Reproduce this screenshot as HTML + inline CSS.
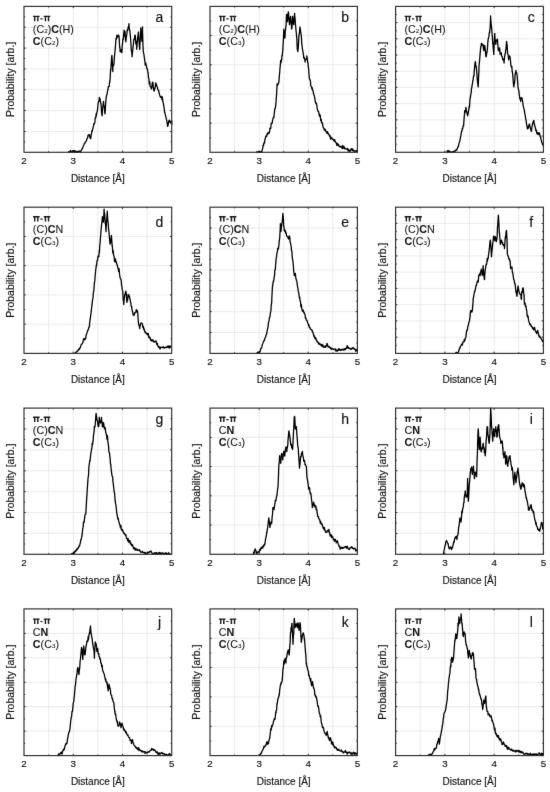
<!DOCTYPE html>
<html><head><meta charset="utf-8"><title>Figure</title>
<style>
html,body{margin:0;padding:0;background:#fff;width:550px;height:792px;overflow:hidden}
svg{display:block}
text{font-family:"Liberation Sans",sans-serif;fill:#111;stroke:#111;stroke-width:0.15px}
.lb{stroke-width:0.05px}
.pp{stroke-width:0.35px}

</style></head><body>
<svg width="550" height="792" viewBox="0 0 550 792">
<defs><filter id="bl" filterUnits="userSpaceOnUse" x="0" y="0" width="550" height="792" color-interpolation-filters="sRGB"><feConvolveMatrix order="3" kernelMatrix="0 1 0 1 10 1 0 1 0" edgeMode="duplicate"/></filter></defs>
<g filter="url(#bl)">
<rect width="550" height="792" fill="#fff"/>
<path d="M48.62 6.40V152.30M73.23 6.40V152.30M97.85 6.40V152.30M122.47 6.40V152.30M147.08 6.40V152.30M24.00 27.24H171.70M24.00 48.09H171.70M24.00 68.93H171.70M24.00 89.77H171.70M24.00 110.61H171.70M24.00 131.46H171.70" stroke="#e8e8e8" stroke-width="0.90" fill="none"/>
<path d="M24.00 16.82h1.10M171.70 16.82h-1.10M24.00 27.24h1.70M171.70 27.24h-1.70M24.00 37.66h1.10M171.70 37.66h-1.10M24.00 48.09h1.70M171.70 48.09h-1.70M24.00 58.51h1.10M171.70 58.51h-1.10M24.00 68.93h1.70M171.70 68.93h-1.70M24.00 79.35h1.10M171.70 79.35h-1.10M24.00 89.77h1.70M171.70 89.77h-1.70M24.00 100.19h1.10M171.70 100.19h-1.10M24.00 110.61h1.70M171.70 110.61h-1.70M24.00 121.04h1.10M171.70 121.04h-1.10M24.00 131.46h1.70M171.70 131.46h-1.70M24.00 141.88h1.10M171.70 141.88h-1.10M48.62 152.30v-1.10M48.62 6.40v1.10M73.23 152.30v-1.70M73.23 6.40v1.70M97.85 152.30v-1.10M97.85 6.40v1.10M122.47 152.30v-1.70M122.47 6.40v1.70M147.08 152.30v-1.10M147.08 6.40v1.10" stroke="#2a2a2a" stroke-width="1" fill="none"/>
<path d="M68.3 151.2 68.7 151.5 69.2 152.3 69.6 151.8 70.1 151.7 70.5 150.5 71.0 151.1 71.4 151.7 71.9 151.6 72.3 152.1 72.8 150.6 73.2 150.7 73.7 151.6 74.1 150.6 74.6 152.0 75.0 150.7 75.5 152.0 75.9 151.8 76.4 152.3 76.8 151.3 77.3 151.8 77.7 151.5 78.2 151.6 78.6 151.7 79.1 151.0 79.5 151.8 80.0 151.2 80.4 152.1 80.7 151.6 80.9 150.9 81.3 150.5 81.8 149.2 82.2 149.0 82.7 148.0 82.8 147.0 83.1 146.5 83.6 145.3 84.0 144.6 84.5 143.4 84.9 143.3 84.9 143.3 85.4 141.8 85.8 141.6 86.3 140.9 86.7 139.8 86.9 138.7 87.2 138.3 87.6 137.7 88.1 135.1 88.5 135.7 89.0 134.8 89.0 134.6 89.4 134.7 89.9 137.0 90.3 138.6 90.7 138.7 90.8 137.7 91.2 134.9 91.7 132.3 92.1 130.4 92.1 131.5 92.6 129.2 93.0 128.0 93.5 125.9 93.9 123.6 94.2 124.2 94.4 123.6 94.8 122.7 95.3 117.7 95.7 117.9 96.2 113.6 96.3 115.9 96.6 113.5 97.1 111.6 97.5 110.1 97.9 105.6 98.0 104.5 98.4 101.6 98.9 101.5 99.3 97.5 99.4 98.3 99.8 98.2 100.2 99.6 100.7 103.3 100.8 103.5 101.1 105.4 101.6 112.2 102.0 115.6 102.1 115.9 102.5 109.4 102.9 106.1 103.4 101.9 103.5 101.4 103.8 105.4 104.3 106.4 104.7 112.0 105.0 113.8 105.2 111.7 105.6 104.5 106.1 98.2 106.5 95.5 106.6 95.2 107.0 94.3 107.4 91.9 107.9 89.7 108.1 89.0 108.3 86.6 108.8 86.7 109.2 86.5 109.7 80.7 109.7 82.8 110.1 79.0 110.6 69.6 110.8 70.3 111.0 67.1 111.5 59.8 111.8 55.8 111.9 55.4 112.4 63.9 112.8 71.5 112.8 68.2 113.3 65.0 113.7 65.1 113.9 64.1 114.2 60.0 114.6 55.0 115.1 50.3 115.5 45.4 115.5 45.5 116.0 38.5 116.4 39.2 116.9 35.4 117.0 35.1 117.3 37.7 117.8 36.4 118.2 35.2 118.7 35.3 119.1 37.2 119.1 36.5 119.6 46.5 120.0 48.5 120.1 51.7 120.5 51.8 120.9 50.7 121.4 49.7 121.8 52.7 121.8 52.7 122.3 45.5 122.7 42.1 122.8 39.2 123.2 39.6 123.6 34.5 124.1 30.2 124.2 30.9 124.5 36.1 125.0 31.5 125.4 38.8 125.9 41.8 125.9 41.3 126.3 37.5 126.8 34.4 127.2 29.8 127.4 30.9 127.7 30.6 128.1 27.5 128.6 26.3 129.0 23.7 129.0 26.4 129.5 29.3 129.9 31.0 130.4 36.7 130.5 37.2 130.8 41.3 131.3 50.8 131.7 51.6 132.1 56.8 132.2 55.1 132.6 51.3 133.1 46.6 133.5 43.3 133.6 41.3 134.0 39.0 134.4 39.5 134.9 35.2 135.0 37.2 135.3 35.5 135.8 43.9 136.2 41.5 136.7 47.5 136.7 49.3 137.1 43.6 137.6 38.5 138.0 35.6 138.3 33.0 138.5 31.8 138.9 39.8 139.4 46.5 139.8 49.6 139.8 46.5 140.3 38.8 140.7 31.5 140.8 27.8 141.2 34.8 141.6 36.5 141.9 41.3 142.1 36.4 142.5 26.8 142.5 30.4 143.0 45.8 143.3 51.7 143.4 52.2 143.9 54.4 144.3 57.2 144.8 61.2 145.0 62.0 145.2 65.1 145.7 63.0 146.1 65.0 146.6 66.5 146.6 68.2 147.0 68.3 147.5 70.0 147.9 72.4 148.1 72.4 148.4 77.3 148.8 78.4 149.3 84.2 149.5 82.8 149.7 81.6 150.2 86.7 150.6 86.8 151.1 86.8 151.2 89.0 151.5 88.5 152.0 86.1 152.4 82.2 152.8 82.8 152.9 82.4 153.3 87.3 153.8 90.7 154.2 88.7 154.3 91.0 154.7 87.8 155.1 88.2 155.6 83.3 155.8 82.8 156.0 83.9 156.5 84.8 156.9 86.5 157.4 86.9 157.4 86.9 157.8 89.7 158.3 90.3 158.7 90.4 159.1 93.1 159.2 92.6 159.6 94.9 160.1 96.4 160.5 97.3 160.5 97.2 161.0 97.3 161.4 96.3 161.9 99.5 162.3 96.9 162.6 99.3 162.8 101.2 163.2 102.9 163.7 105.3 164.1 107.7 164.6 112.4 164.7 111.8 165.0 113.4 165.5 115.3 165.9 116.8 166.4 119.4 166.7 120.1 166.8 121.0 167.3 124.1 167.7 126.4 167.8 126.3 168.2 124.5 168.6 121.6 169.1 120.5 169.4 120.1 169.5 122.0 170.0 121.4 170.4 121.3 170.9 123.2 170.9 122.7 171.3 123.3 171.7 120.9 171.7 124.4 171.7 121.5 171.7 122.1 171.7 122.1" stroke="#000" stroke-width="1.30" fill="none" stroke-linejoin="round"/>
<rect x="24.00" y="6.40" width="147.70" height="145.90" fill="none" stroke="#2a2a2a" stroke-width="1.15"/>
<path d="M33.00 15.80h6.6v1.3h-6.6zM34.00 15.80h1.45v5.50h-1.45zM37.10 15.80h1.45v5.50h-1.45zM40.40 18.30h2.2v1.1h-2.2zM43.70 15.80h6.6v1.3h-6.6zM44.70 15.80h1.45v5.50h-1.45zM47.80 15.80h1.45v5.50h-1.45z" fill="#1a1a1a"/>
<text class="lb" transform="translate(32.80 33.10) scale(1.045 1)" font-size="10.30">(C<tspan font-size="6.00">2</tspan>)<tspan font-weight="bold">C</tspan>(H)</text>
<text class="lb" transform="translate(32.80 45.00) scale(1.045 1)" font-size="10.30"><tspan font-weight="bold">C</tspan>(C<tspan font-size="6.00">2</tspan>)</text>
<text x="159.50" y="21.70" font-size="14.00" text-anchor="middle">a</text>
<text x="24.00" y="163.50" font-size="9.80" text-anchor="middle">2</text>
<text x="73.23" y="163.50" font-size="9.80" text-anchor="middle">3</text>
<text x="122.47" y="163.50" font-size="9.80" text-anchor="middle">4</text>
<text x="171.70" y="163.50" font-size="9.80" text-anchor="middle">5</text>
<text x="97.85" y="181.50" font-size="10.00" text-anchor="middle">Distance [Å]</text>
<text transform="translate(14.10 79.35) rotate(-90) scale(1.040 1)" font-size="10.00" text-anchor="middle">Probability [arb.]</text>
<path d="M234.57 6.40V152.30M259.13 6.40V152.30M283.70 6.40V152.30M308.27 6.40V152.30M332.83 6.40V152.30M210.00 35.58H357.40M210.00 64.76H357.40M210.00 93.94H357.40M210.00 123.12H357.40" stroke="#e8e8e8" stroke-width="0.90" fill="none"/>
<path d="M210.00 20.99h1.10M357.40 20.99h-1.10M210.00 35.58h1.70M357.40 35.58h-1.70M210.00 50.17h1.10M357.40 50.17h-1.10M210.00 64.76h1.70M357.40 64.76h-1.70M210.00 79.35h1.10M357.40 79.35h-1.10M210.00 93.94h1.70M357.40 93.94h-1.70M210.00 108.53h1.10M357.40 108.53h-1.10M210.00 123.12h1.70M357.40 123.12h-1.70M210.00 137.71h1.10M357.40 137.71h-1.10M234.57 152.30v-1.10M234.57 6.40v1.10M259.13 152.30v-1.70M259.13 6.40v1.70M283.70 152.30v-1.10M283.70 6.40v1.10M308.27 152.30v-1.70M308.27 6.40v1.70M332.83 152.30v-1.10M332.83 6.40v1.10" stroke="#2a2a2a" stroke-width="1" fill="none"/>
<path d="M256.4 151.4 256.8 151.5 257.3 152.3 257.7 152.1 258.2 152.3 258.6 151.4 259.1 151.6 259.5 151.7 260.0 152.0 260.4 151.7 260.9 152.1 261.3 152.3 261.5 151.8 261.8 151.5 262.2 150.0 262.7 148.4 263.1 145.0 263.6 145.5 263.6 144.9 264.0 142.7 264.5 143.1 264.9 139.7 265.4 138.0 265.7 136.6 265.8 136.2 266.3 135.7 266.7 136.4 267.2 133.6 267.6 134.5 267.8 133.5 268.1 132.5 268.5 132.5 269.0 133.4 269.4 132.1 269.8 130.4 269.9 128.2 270.3 129.0 270.8 128.2 271.2 123.2 271.7 123.5 271.9 123.2 272.1 123.3 272.6 120.3 273.0 118.7 273.5 117.1 273.9 117.5 274.0 115.9 274.4 112.7 274.8 108.6 275.3 108.3 275.7 105.1 276.1 101.4 276.2 99.2 276.6 94.1 277.1 83.9 277.1 84.8 277.5 85.3 278.0 84.7 278.4 82.9 278.7 82.8 278.9 82.1 279.3 76.4 279.8 71.3 279.8 70.3 280.2 66.4 280.7 60.4 281.1 62.7 281.2 60.0 281.6 60.3 282.0 55.4 282.3 55.8 282.5 52.5 282.9 49.6 282.9 47.9 283.4 39.5 283.8 29.2 283.9 30.9 284.3 36.0 284.7 38.2 285.0 37.2 285.2 31.8 285.6 29.1 285.8 26.8 286.1 25.2 286.5 14.5 286.6 14.4 287.0 16.2 287.4 21.7 287.5 20.6 287.9 15.1 288.3 11.9 288.5 12.3 288.8 18.2 289.2 21.3 289.5 24.7 289.7 21.4 290.1 18.4 290.6 16.4 290.6 16.9 291.0 22.2 291.5 26.6 291.6 28.9 291.9 28.5 292.4 19.2 292.6 16.4 292.8 19.9 293.3 21.6 293.7 24.7 293.7 24.3 294.2 18.1 294.6 13.4 294.7 15.4 295.1 19.4 295.5 25.0 295.7 26.8 296.0 30.3 296.4 33.5 296.8 39.2 296.9 39.7 297.3 49.6 297.8 50.8 297.8 51.7 298.2 48.2 298.7 40.1 298.8 37.2 299.1 34.8 299.6 31.1 299.9 26.8 300.0 27.4 300.5 30.7 300.9 33.4 300.9 33.0 301.4 37.0 301.8 44.1 302.0 45.5 302.3 48.1 302.7 50.4 303.2 53.2 303.6 56.3 303.6 57.9 304.1 57.1 304.5 58.2 305.0 60.7 305.1 62.0 305.4 59.4 305.9 59.5 306.3 59.1 306.7 57.9 306.8 55.9 307.2 58.0 307.7 62.6 308.1 63.2 308.2 66.2 308.6 68.7 309.0 74.5 309.2 76.5 309.5 79.1 309.9 79.5 310.2 80.7 310.4 80.8 310.8 85.7 311.3 86.6 311.7 87.5 311.9 89.0 312.2 87.6 312.6 90.3 313.1 90.7 313.4 93.1 313.5 93.1 314.0 95.4 314.4 95.8 314.9 99.2 315.3 102.0 315.4 101.4 315.8 103.5 316.2 102.8 316.7 104.6 317.1 107.4 317.5 109.7 317.6 109.8 318.0 111.4 318.5 111.3 318.9 112.9 319.4 116.1 319.6 115.9 319.8 114.4 320.3 115.9 320.7 120.5 321.2 119.4 321.6 122.8 321.6 122.1 322.1 122.5 322.5 123.4 323.0 127.1 323.4 127.3 323.7 128.4 323.9 128.4 324.3 130.0 324.8 128.8 325.2 130.3 325.7 130.0 325.8 131.5 326.1 131.5 326.6 131.8 327.0 133.4 327.5 131.7 327.9 133.5 327.9 133.8 328.4 133.5 328.8 134.9 329.3 134.8 329.7 136.2 329.9 136.6 330.2 135.8 330.6 139.2 331.1 137.3 331.5 137.9 332.0 138.0 332.0 138.7 332.4 139.1 332.9 139.4 333.3 139.5 333.8 140.8 334.1 140.8 334.2 141.1 334.7 139.5 335.1 141.0 335.6 142.6 336.0 142.8 336.2 142.9 336.5 142.8 336.9 145.4 337.4 143.3 337.8 144.1 338.2 144.9 338.3 145.6 338.7 144.9 339.2 146.3 339.6 146.7 340.1 146.5 340.3 147.0 340.5 146.8 341.0 146.3 341.4 147.0 341.9 147.7 342.3 148.7 342.4 147.0 342.8 145.5 343.2 147.3 343.7 148.3 344.1 146.7 344.4 148.0 344.6 148.1 345.0 149.0 345.5 148.4 345.9 148.7 346.4 148.9 346.8 149.2 347.3 149.3 347.6 149.1 347.7 148.5 348.2 151.0 348.6 149.7 349.1 150.4 349.5 151.3 349.6 151.2 350.0 151.3 350.4 150.3 350.9 149.3 351.3 148.8 351.7 149.1 351.8 149.0 352.2 150.6 352.7 148.8 353.1 150.2 353.6 150.4 353.8 151.2 354.0 151.5 354.5 151.1 354.9 150.9 355.4 151.3 355.8 151.0 356.3 150.5 356.7 151.6 357.2 151.4 357.3 151.6 357.3 151.6" stroke="#000" stroke-width="1.30" fill="none" stroke-linejoin="round"/>
<rect x="210.00" y="6.40" width="147.40" height="145.90" fill="none" stroke="#2a2a2a" stroke-width="1.15"/>
<path d="M219.00 15.80h6.6v1.3h-6.6zM220.00 15.80h1.45v5.50h-1.45zM223.10 15.80h1.45v5.50h-1.45zM226.40 18.30h2.2v1.1h-2.2zM229.70 15.80h6.6v1.3h-6.6zM230.70 15.80h1.45v5.50h-1.45zM233.80 15.80h1.45v5.50h-1.45z" fill="#1a1a1a"/>
<text class="lb" transform="translate(218.80 33.10) scale(1.045 1)" font-size="10.30">(C<tspan font-size="6.00">2</tspan>)<tspan font-weight="bold">C</tspan>(H)</text>
<text class="lb" transform="translate(218.80 45.00) scale(1.045 1)" font-size="10.30"><tspan font-weight="bold">C</tspan>(C<tspan font-size="6.00">3</tspan>)</text>
<text x="345.20" y="21.70" font-size="14.00" text-anchor="middle">b</text>
<text x="210.00" y="163.50" font-size="9.80" text-anchor="middle">2</text>
<text x="259.13" y="163.50" font-size="9.80" text-anchor="middle">3</text>
<text x="308.27" y="163.50" font-size="9.80" text-anchor="middle">4</text>
<text x="357.40" y="163.50" font-size="9.80" text-anchor="middle">5</text>
<text x="283.70" y="181.50" font-size="10.00" text-anchor="middle">Distance [Å]</text>
<text transform="translate(200.10 79.35) rotate(-90) scale(1.040 1)" font-size="10.00" text-anchor="middle">Probability [arb.]</text>
<path d="M420.23 6.40V152.30M444.87 6.40V152.30M469.50 6.40V152.30M494.13 6.40V152.30M518.77 6.40V152.30M395.60 22.61H543.40M395.60 38.82H543.40M395.60 55.03H543.40M395.60 71.24H543.40M395.60 87.46H543.40M395.60 103.67H543.40M395.60 119.88H543.40M395.60 136.09H543.40" stroke="#e8e8e8" stroke-width="0.90" fill="none"/>
<path d="M395.60 14.51h1.10M543.40 14.51h-1.10M395.60 22.61h1.70M543.40 22.61h-1.70M395.60 30.72h1.10M543.40 30.72h-1.10M395.60 38.82h1.70M543.40 38.82h-1.70M395.60 46.93h1.10M543.40 46.93h-1.10M395.60 55.03h1.70M543.40 55.03h-1.70M395.60 63.14h1.10M543.40 63.14h-1.10M395.60 71.24h1.70M543.40 71.24h-1.70M395.60 79.35h1.10M543.40 79.35h-1.10M395.60 87.46h1.70M543.40 87.46h-1.70M395.60 95.56h1.10M543.40 95.56h-1.10M395.60 103.67h1.70M543.40 103.67h-1.70M395.60 111.77h1.10M543.40 111.77h-1.10M395.60 119.88h1.70M543.40 119.88h-1.70M395.60 127.98h1.10M543.40 127.98h-1.10M395.60 136.09h1.70M543.40 136.09h-1.70M395.60 144.19h1.10M543.40 144.19h-1.10M420.23 152.30v-1.10M420.23 6.40v1.10M444.87 152.30v-1.70M444.87 6.40v1.70M469.50 152.30v-1.10M469.50 6.40v1.10M494.13 152.30v-1.70M494.13 6.40v1.70M518.77 152.30v-1.10M518.77 6.40v1.10" stroke="#2a2a2a" stroke-width="1" fill="none"/>
<path d="M446.5 152.3 447.0 152.1 447.4 150.7 447.9 151.3 448.2 150.7 448.3 150.8 448.8 151.7 449.2 150.9 449.6 151.6 449.7 151.8 450.1 151.6 450.6 151.8 451.0 152.3 451.5 152.3 451.9 151.9 452.4 152.2 452.7 152.2 452.8 152.2 453.3 151.4 453.7 151.4 454.2 151.2 454.6 151.7 454.8 151.2 455.1 151.2 455.5 150.2 456.0 150.5 456.4 149.5 456.9 149.8 456.9 149.1 457.3 148.9 457.8 146.8 458.2 147.0 458.5 146.0 458.7 144.7 459.1 143.1 459.6 141.7 460.0 140.8 460.0 139.7 460.5 137.1 460.9 135.4 461.0 134.6 461.4 131.6 461.8 131.8 462.3 128.4 462.7 128.4 462.7 128.7 463.2 125.5 463.6 125.8 463.7 124.2 464.1 118.4 464.5 113.8 464.7 110.7 465.0 112.9 465.4 111.3 465.9 107.5 466.2 108.7 466.3 111.1 466.8 111.8 467.2 114.2 467.6 115.9 467.7 115.0 468.1 113.7 468.6 110.2 469.0 108.8 469.3 105.6 469.5 107.3 469.9 99.9 470.3 97.3 470.4 97.3 470.8 94.1 471.3 92.4 471.4 89.0 471.7 88.1 472.2 84.7 472.6 82.8 472.8 80.7 473.1 80.2 473.5 76.0 474.0 75.9 474.1 72.4 474.4 69.4 474.9 63.9 475.3 61.6 475.5 62.0 475.8 66.7 476.2 66.2 476.6 70.3 476.7 70.8 477.1 77.4 477.6 82.8 477.6 82.8 478.0 85.5 478.2 86.9 478.5 79.1 478.9 71.1 479.0 66.2 479.4 62.1 479.8 57.6 480.1 53.7 480.3 52.2 480.7 46.6 481.2 46.0 481.3 43.4 481.6 43.5 482.1 45.2 482.5 44.4 482.8 45.5 483.0 44.5 483.4 49.0 483.8 48.6 483.9 50.8 484.3 45.9 484.8 47.7 484.8 45.5 485.2 49.3 485.7 54.5 485.9 56.8 486.1 56.8 486.6 54.1 486.9 51.7 487.0 52.5 487.5 48.0 487.9 40.9 488.0 41.3 488.4 38.0 488.8 37.3 489.3 32.5 489.6 33.0 489.7 30.7 490.2 27.7 490.6 16.0 490.7 18.5 491.1 23.3 491.5 26.8 491.7 28.9 492.0 33.6 492.4 37.2 492.7 43.4 492.9 42.8 493.3 49.0 493.8 54.4 493.8 53.7 494.2 42.9 494.6 35.1 494.7 33.4 495.1 39.3 495.6 41.6 495.8 44.4 496.0 41.6 496.5 40.7 496.9 40.3 496.9 39.7 497.4 39.1 497.8 44.0 498.3 50.4 498.3 47.5 498.7 48.7 499.2 51.0 499.6 47.9 500.0 51.7 500.1 54.2 500.5 52.9 501.0 54.2 501.4 52.9 501.4 55.8 501.9 56.0 502.3 57.0 502.8 59.9 502.9 58.9 503.2 58.8 503.7 59.4 504.1 63.0 504.1 62.0 504.6 57.1 505.0 53.9 505.5 53.0 505.6 49.6 505.9 49.8 506.4 43.5 506.6 41.3 506.8 42.9 507.3 47.1 507.6 53.7 507.7 53.8 508.2 54.7 508.6 59.8 508.7 57.9 509.1 57.1 509.5 57.9 509.7 55.8 510.0 57.0 510.4 60.1 510.8 64.1 510.9 65.4 511.3 67.0 511.8 67.2 511.8 66.2 512.2 71.5 512.7 73.4 512.8 76.5 513.1 79.6 513.6 85.7 513.9 86.9 514.0 84.8 514.5 83.5 514.9 78.6 514.9 76.3 515.4 73.0 515.8 72.0 515.9 70.3 516.3 72.9 516.7 72.6 517.0 74.5 517.2 76.7 517.6 81.4 518.0 86.9 518.1 87.6 518.5 89.6 519.0 91.4 519.0 93.1 519.4 95.4 519.9 99.0 520.3 97.8 520.7 101.4 520.8 98.8 521.2 98.7 521.7 97.6 522.1 98.3 522.2 99.3 522.6 101.3 523.0 104.5 523.2 105.6 523.5 107.2 523.9 108.6 524.2 109.7 524.4 110.8 524.8 113.7 525.3 115.5 525.3 115.9 525.7 118.7 526.2 121.1 526.3 122.1 526.6 124.7 527.1 126.3 527.3 128.4 527.5 128.9 528.0 128.4 528.4 126.3 528.4 128.2 528.9 125.4 529.3 123.9 529.4 124.2 529.8 125.6 530.2 127.3 530.4 128.4 530.7 129.3 531.1 130.7 531.5 131.5 531.6 130.3 532.0 126.8 532.5 123.6 532.5 124.2 532.9 122.7 533.4 120.9 533.6 122.1 533.8 120.3 534.3 124.3 534.6 124.2 534.7 126.0 535.2 126.8 535.6 129.9 535.6 128.4 536.1 130.8 536.5 130.3 536.7 132.5 537.0 133.9 537.4 133.2 537.9 132.6 538.1 133.5 538.3 134.6 538.8 133.6 539.2 132.8 539.7 133.7 539.8 134.6 540.1 136.4 540.6 137.2 541.0 139.2 541.4 140.8 541.5 141.0 541.9 142.9 542.4 143.7 542.8 145.1 542.9 144.9 542.9 144.9" stroke="#000" stroke-width="1.30" fill="none" stroke-linejoin="round"/>
<rect x="395.60" y="6.40" width="147.80" height="145.90" fill="none" stroke="#2a2a2a" stroke-width="1.15"/>
<path d="M404.60 15.80h6.6v1.3h-6.6zM405.60 15.80h1.45v5.50h-1.45zM408.70 15.80h1.45v5.50h-1.45zM412.00 18.30h2.2v1.1h-2.2zM415.30 15.80h6.6v1.3h-6.6zM416.30 15.80h1.45v5.50h-1.45zM419.40 15.80h1.45v5.50h-1.45z" fill="#1a1a1a"/>
<text class="lb" transform="translate(404.40 33.10) scale(1.045 1)" font-size="10.30">(C<tspan font-size="6.00">2</tspan>)<tspan font-weight="bold">C</tspan>(H)</text>
<text class="lb" transform="translate(404.40 45.00) scale(1.045 1)" font-size="10.30"><tspan font-weight="bold">C</tspan>(C<tspan font-size="6.00">3</tspan>)</text>
<text x="531.20" y="21.70" font-size="14.00" text-anchor="middle">c</text>
<text x="395.60" y="163.50" font-size="9.80" text-anchor="middle">2</text>
<text x="444.87" y="163.50" font-size="9.80" text-anchor="middle">3</text>
<text x="494.13" y="163.50" font-size="9.80" text-anchor="middle">4</text>
<text x="543.40" y="163.50" font-size="9.80" text-anchor="middle">5</text>
<text x="469.50" y="181.50" font-size="10.00" text-anchor="middle">Distance [Å]</text>
<text transform="translate(385.70 79.35) rotate(-90) scale(1.040 1)" font-size="10.00" text-anchor="middle">Probability [arb.]</text>
<path d="M48.62 207.20V353.40M73.23 207.20V353.40M97.85 207.20V353.40M122.47 207.20V353.40M147.08 207.20V353.40M24.00 236.44H171.70M24.00 265.68H171.70M24.00 294.92H171.70M24.00 324.16H171.70" stroke="#e8e8e8" stroke-width="0.90" fill="none"/>
<path d="M24.00 221.82h1.10M171.70 221.82h-1.10M24.00 236.44h1.70M171.70 236.44h-1.70M24.00 251.06h1.10M171.70 251.06h-1.10M24.00 265.68h1.70M171.70 265.68h-1.70M24.00 280.30h1.10M171.70 280.30h-1.10M24.00 294.92h1.70M171.70 294.92h-1.70M24.00 309.54h1.10M171.70 309.54h-1.10M24.00 324.16h1.70M171.70 324.16h-1.70M24.00 338.78h1.10M171.70 338.78h-1.10M48.62 353.40v-1.10M48.62 207.20v1.10M73.23 353.40v-1.70M73.23 207.20v1.70M97.85 353.40v-1.10M97.85 207.20v1.10M122.47 353.40v-1.70M122.47 207.20v1.70M147.08 353.40v-1.10M147.08 207.20v1.10" stroke="#2a2a2a" stroke-width="1" fill="none"/>
<path d="M74.5 353.4 75.0 353.0 75.4 353.0 75.9 352.2 76.3 352.2 76.8 351.8 77.2 350.8 77.6 351.1 77.7 350.9 78.1 350.3 78.6 349.1 79.0 349.6 79.5 349.4 79.7 348.0 79.9 348.1 80.4 347.4 80.8 345.9 81.3 344.3 81.7 344.2 81.8 343.9 82.2 343.8 82.6 343.0 83.1 342.1 83.5 339.0 83.8 339.7 84.0 338.7 84.4 339.9 84.9 338.5 85.3 339.1 85.8 338.2 85.9 336.6 86.2 335.0 86.7 333.8 87.1 332.5 87.6 330.7 88.0 330.4 88.0 329.7 88.5 329.1 88.9 326.8 89.4 326.9 89.6 323.1 89.8 321.8 90.3 318.7 90.7 315.2 91.1 312.8 91.2 311.6 91.6 308.2 92.1 303.2 92.1 304.5 92.5 299.9 93.0 298.1 93.2 294.1 93.4 292.8 93.9 289.7 94.2 285.8 94.3 283.6 94.8 280.9 95.2 275.2 95.2 275.5 95.7 269.9 96.1 267.5 96.3 265.1 96.6 265.6 97.0 260.6 97.3 261.0 97.5 260.5 97.9 257.0 98.3 255.8 98.4 256.6 98.8 256.8 99.3 250.6 99.4 252.7 99.7 246.0 100.2 241.8 100.4 238.2 100.6 236.0 101.1 229.5 101.5 225.7 101.5 224.8 102.0 221.8 102.4 216.6 102.5 217.4 102.9 218.3 103.3 222.1 103.5 221.6 103.8 215.9 104.1 209.1 104.2 211.4 104.7 214.0 105.1 220.1 105.2 223.7 105.6 224.0 106.0 231.6 106.0 229.9 106.5 222.0 106.9 217.5 107.3 211.2 107.4 213.0 107.8 220.7 108.3 223.7 108.3 225.7 108.7 229.9 109.2 234.2 109.3 236.1 109.6 239.1 110.1 244.1 110.4 242.3 110.5 242.9 111.0 238.1 111.4 236.1 111.4 235.3 111.9 242.4 112.2 246.5 112.3 245.2 112.8 252.9 113.2 250.6 113.5 254.7 113.7 255.7 114.1 256.3 114.5 261.0 114.6 261.6 115.0 260.8 115.5 260.6 115.5 258.9 115.9 262.3 116.4 262.0 116.8 264.4 117.0 265.1 117.3 264.9 117.7 267.3 118.2 268.9 118.6 271.4 118.7 269.2 119.1 268.8 119.5 273.9 120.0 277.4 120.1 277.5 120.4 278.7 120.9 279.4 121.3 281.4 121.6 285.8 121.8 285.9 122.2 289.2 122.7 291.4 122.8 292.0 123.1 298.5 123.6 302.2 123.8 304.5 124.0 300.9 124.5 297.2 124.9 294.1 124.9 295.2 125.4 292.6 125.8 291.1 125.9 292.0 126.3 293.8 126.7 299.4 126.9 302.4 127.2 300.6 127.6 300.2 128.0 296.2 128.1 294.4 128.5 296.6 129.0 295.0 129.4 297.2 129.4 296.2 129.9 299.0 130.3 300.0 130.5 302.4 130.8 302.7 131.2 306.5 131.7 306.4 131.9 308.6 132.1 311.0 132.6 311.3 133.0 313.9 133.2 314.8 133.5 314.3 133.9 315.6 134.4 314.0 134.6 312.8 134.8 313.1 135.3 312.3 135.7 312.5 136.2 309.9 136.3 309.7 136.6 310.2 137.1 312.0 137.5 310.9 137.7 312.8 138.0 317.1 138.4 322.0 138.8 325.2 138.9 325.2 139.3 326.1 139.8 328.7 139.8 327.3 140.2 325.4 140.7 323.5 141.1 322.9 141.2 323.1 141.6 323.2 142.0 323.1 142.5 324.9 142.5 325.2 142.9 327.5 143.4 326.3 143.8 329.7 143.9 329.4 144.3 328.9 144.7 331.8 145.0 331.4 145.2 331.9 145.6 332.9 146.1 332.7 146.5 333.8 146.6 333.5 147.0 333.5 147.4 334.8 147.9 333.6 148.1 334.5 148.3 333.5 148.8 337.3 149.2 337.9 149.5 337.6 149.7 337.0 150.1 337.7 150.6 340.0 151.0 340.1 151.2 340.8 151.5 339.6 151.9 341.0 152.4 340.5 152.8 340.3 152.8 339.7 153.3 341.1 153.7 342.0 154.2 342.1 154.3 341.8 154.6 341.4 155.1 341.8 155.5 341.3 155.8 340.8 156.0 340.9 156.4 342.4 156.9 344.5 157.0 343.9 157.3 343.3 157.8 345.5 158.2 346.8 158.4 347.0 158.7 347.2 159.1 346.5 159.6 348.0 160.0 349.1 160.5 347.1 160.5 348.0 160.9 347.5 161.4 347.4 161.8 347.3 162.3 347.6 162.6 347.0 162.7 347.0 163.2 346.8 163.6 347.2 164.1 348.2 164.5 347.7 164.7 348.0 165.0 347.4 165.4 347.3 165.9 347.2 166.3 347.5 166.7 347.0 166.8 346.9 167.2 346.8 167.7 346.0 168.1 347.7 168.6 346.5 168.8 345.9 169.0 346.5 169.5 348.1 169.9 345.9 170.4 347.2 170.8 346.4 170.9 347.0 170.9 347.0" stroke="#000" stroke-width="1.30" fill="none" stroke-linejoin="round"/>
<rect x="24.00" y="207.20" width="147.70" height="146.20" fill="none" stroke="#2a2a2a" stroke-width="1.15"/>
<path d="M33.00 216.10h6.6v1.3h-6.6zM34.00 216.10h1.45v5.50h-1.45zM37.10 216.10h1.45v5.50h-1.45zM40.40 218.60h2.2v1.1h-2.2zM43.70 216.10h6.6v1.3h-6.6zM44.70 216.10h1.45v5.50h-1.45zM47.80 216.10h1.45v5.50h-1.45z" fill="#1a1a1a"/>
<text class="lb" transform="translate(32.80 233.40) scale(1.045 1)" font-size="10.30">(C)<tspan font-weight="bold">C</tspan>N</text>
<text class="lb" transform="translate(32.80 245.30) scale(1.045 1)" font-size="10.30"><tspan font-weight="bold">C</tspan>(C<tspan font-size="6.00">3</tspan>)</text>
<text x="159.50" y="226.60" font-size="14.00" text-anchor="middle">d</text>
<text x="24.00" y="364.60" font-size="9.80" text-anchor="middle">2</text>
<text x="73.23" y="364.60" font-size="9.80" text-anchor="middle">3</text>
<text x="122.47" y="364.60" font-size="9.80" text-anchor="middle">4</text>
<text x="171.70" y="364.60" font-size="9.80" text-anchor="middle">5</text>
<text x="97.85" y="382.60" font-size="10.00" text-anchor="middle">Distance [Å]</text>
<text transform="translate(14.10 280.30) rotate(-90) scale(1.040 1)" font-size="10.00" text-anchor="middle">Probability [arb.]</text>
<path d="M234.57 207.20V353.40M259.13 207.20V353.40M283.70 207.20V353.40M308.27 207.20V353.40M332.83 207.20V353.40M210.00 228.09H357.40M210.00 248.97H357.40M210.00 269.86H357.40M210.00 290.74H357.40M210.00 311.63H357.40M210.00 332.51H357.40" stroke="#e8e8e8" stroke-width="0.90" fill="none"/>
<path d="M210.00 217.64h1.10M357.40 217.64h-1.10M210.00 228.09h1.70M357.40 228.09h-1.70M210.00 238.53h1.10M357.40 238.53h-1.10M210.00 248.97h1.70M357.40 248.97h-1.70M210.00 259.41h1.10M357.40 259.41h-1.10M210.00 269.86h1.70M357.40 269.86h-1.70M210.00 280.30h1.10M357.40 280.30h-1.10M210.00 290.74h1.70M357.40 290.74h-1.70M210.00 301.19h1.10M357.40 301.19h-1.10M210.00 311.63h1.70M357.40 311.63h-1.70M210.00 322.07h1.10M357.40 322.07h-1.10M210.00 332.51h1.70M357.40 332.51h-1.70M210.00 342.96h1.10M357.40 342.96h-1.10M234.57 353.40v-1.10M234.57 207.20v1.10M259.13 353.40v-1.70M259.13 207.20v1.70M283.70 353.40v-1.10M283.70 207.20v1.10M308.27 353.40v-1.70M308.27 207.20v1.70M332.83 353.40v-1.10M332.83 207.20v1.10" stroke="#2a2a2a" stroke-width="1" fill="none"/>
<path d="M256.4 352.7 256.8 353.4 257.3 352.7 257.7 352.2 258.2 352.1 258.6 352.3 259.1 351.9 259.5 352.2 259.5 351.6 260.0 351.9 260.4 350.3 260.9 348.1 261.3 348.2 261.5 348.0 261.8 347.5 262.2 344.8 262.7 343.7 263.1 342.6 263.6 341.2 263.6 341.8 264.0 340.4 264.5 340.3 264.9 338.0 265.4 337.6 265.7 336.6 265.8 335.8 266.3 334.9 266.7 333.5 266.7 333.5 267.2 330.7 267.6 328.6 268.1 327.0 268.4 323.1 268.5 322.4 269.0 321.0 269.4 317.8 269.8 316.9 269.9 317.3 270.3 313.4 270.8 311.4 270.9 310.7 271.2 305.6 271.7 302.3 271.9 296.2 272.1 293.2 272.5 285.8 272.6 286.5 273.0 282.6 273.5 280.7 273.6 281.7 273.9 279.4 274.4 275.7 274.6 275.5 274.8 270.1 275.3 269.8 275.6 265.1 275.7 263.6 276.2 258.2 276.6 256.5 276.7 254.7 277.1 252.7 277.5 250.9 277.7 248.5 278.0 249.0 278.4 248.9 278.7 246.5 278.9 245.3 279.3 240.6 279.8 237.4 279.8 236.1 280.2 229.5 280.4 223.7 280.7 228.8 281.1 231.3 281.2 227.8 281.6 226.1 282.0 222.8 282.3 221.6 282.5 218.8 282.9 213.3 282.9 213.7 283.4 218.7 283.7 225.7 283.8 225.9 284.3 230.7 284.7 231.2 284.8 229.9 285.2 230.4 285.6 233.1 285.8 231.9 286.1 232.8 286.5 235.3 286.8 236.1 287.0 236.3 287.4 236.8 287.9 237.1 288.1 238.2 288.3 238.4 288.8 239.0 289.1 236.1 289.2 236.0 289.7 236.6 290.1 241.0 290.1 242.3 290.6 243.2 291.0 245.7 291.2 246.5 291.5 250.9 291.9 251.2 292.2 256.8 292.4 258.5 292.8 260.3 293.3 265.1 293.3 264.5 293.7 271.1 294.2 274.7 294.3 275.5 294.6 274.3 295.1 275.6 295.3 273.4 295.5 275.0 296.0 279.1 296.4 279.6 296.4 280.1 296.9 281.6 297.3 285.0 297.4 285.8 297.8 287.5 298.2 290.5 298.4 292.0 298.7 292.8 299.1 295.7 299.5 298.3 299.6 296.9 300.0 300.6 300.5 301.4 300.9 306.8 300.9 304.5 301.4 304.7 301.8 308.7 302.3 310.8 302.4 310.7 302.7 311.3 303.2 310.0 303.6 312.2 304.0 312.8 304.1 312.1 304.5 313.8 305.0 314.1 305.1 314.8 305.4 318.1 305.9 318.0 306.1 319.0 306.3 320.2 306.8 320.1 307.2 321.2 307.7 323.1 307.8 323.1 308.1 323.6 308.6 325.6 309.0 324.9 309.2 327.3 309.5 327.6 309.9 327.4 310.4 329.2 310.8 329.1 310.9 329.4 311.3 329.4 311.7 329.9 312.2 331.3 312.3 330.4 312.6 332.2 313.1 332.6 313.5 334.5 314.0 336.5 314.0 335.6 314.4 335.8 314.9 338.3 315.3 338.8 315.4 337.6 315.8 337.9 316.2 340.1 316.7 340.2 316.9 340.8 317.1 341.9 317.6 341.6 318.0 342.0 318.5 343.9 318.5 342.8 318.9 343.6 319.4 343.3 319.8 344.7 320.3 344.6 320.6 344.9 320.7 344.2 321.2 345.4 321.6 344.4 322.1 346.5 322.5 344.8 322.7 345.9 323.0 345.2 323.4 347.0 323.9 347.3 324.3 347.3 324.8 347.0 324.8 346.2 325.2 346.2 325.7 347.3 326.1 345.5 326.6 345.8 326.8 344.9 327.0 343.4 327.5 344.3 327.9 346.3 328.4 347.0 328.8 347.0 328.9 347.0 329.3 346.5 329.7 347.6 330.2 347.4 330.6 348.5 331.0 348.0 331.1 348.4 331.5 349.5 332.0 348.5 332.4 348.3 332.9 348.8 333.0 349.0 333.3 349.3 333.8 349.4 334.2 349.3 334.7 349.1 335.1 350.0 335.1 349.7 335.6 349.0 336.0 351.0 336.5 350.2 336.9 351.1 337.2 350.1 337.4 351.1 337.8 350.2 338.3 350.4 338.7 348.7 339.2 349.0 339.3 350.1 339.6 349.2 340.1 349.4 340.5 350.5 341.0 350.1 341.3 350.1 341.4 349.8 341.9 349.3 342.3 349.9 342.8 349.9 343.2 349.5 343.4 350.1 343.7 348.9 344.1 349.6 344.6 349.9 345.0 348.3 345.5 349.5 345.5 349.0 345.9 349.0 346.4 347.9 346.8 346.8 347.1 345.9 347.3 345.6 347.7 348.2 348.2 347.3 348.6 348.0 348.6 347.5 349.1 348.7 349.5 348.3 350.0 348.5 350.4 348.5 350.7 349.0 350.9 349.5 351.3 349.1 351.8 348.2 352.2 348.5 352.7 348.6 352.7 348.0 353.1 347.4 353.6 348.5 354.0 348.5 354.5 349.2 354.8 349.0 354.9 349.3 355.4 349.5 355.8 351.3 356.3 349.3 356.7 350.6 356.9 351.1 356.9 351.1" stroke="#000" stroke-width="1.30" fill="none" stroke-linejoin="round"/>
<rect x="210.00" y="207.20" width="147.40" height="146.20" fill="none" stroke="#2a2a2a" stroke-width="1.15"/>
<path d="M219.00 216.10h6.6v1.3h-6.6zM220.00 216.10h1.45v5.50h-1.45zM223.10 216.10h1.45v5.50h-1.45zM226.40 218.60h2.2v1.1h-2.2zM229.70 216.10h6.6v1.3h-6.6zM230.70 216.10h1.45v5.50h-1.45zM233.80 216.10h1.45v5.50h-1.45z" fill="#1a1a1a"/>
<text class="lb" transform="translate(218.80 233.40) scale(1.045 1)" font-size="10.30">(C)<tspan font-weight="bold">C</tspan>N</text>
<text class="lb" transform="translate(218.80 245.30) scale(1.045 1)" font-size="10.30"><tspan font-weight="bold">C</tspan>(C<tspan font-size="6.00">3</tspan>)</text>
<text x="345.20" y="226.60" font-size="14.00" text-anchor="middle">e</text>
<text x="210.00" y="364.60" font-size="9.80" text-anchor="middle">2</text>
<text x="259.13" y="364.60" font-size="9.80" text-anchor="middle">3</text>
<text x="308.27" y="364.60" font-size="9.80" text-anchor="middle">4</text>
<text x="357.40" y="364.60" font-size="9.80" text-anchor="middle">5</text>
<text x="283.70" y="382.60" font-size="10.00" text-anchor="middle">Distance [Å]</text>
<text transform="translate(200.10 280.30) rotate(-90) scale(1.040 1)" font-size="10.00" text-anchor="middle">Probability [arb.]</text>
<path d="M420.23 207.20V353.40M444.87 207.20V353.40M469.50 207.20V353.40M494.13 207.20V353.40M518.77 207.20V353.40M395.60 223.44H543.40M395.60 239.69H543.40M395.60 255.93H543.40M395.60 272.18H543.40M395.60 288.42H543.40M395.60 304.67H543.40M395.60 320.91H543.40M395.60 337.16H543.40" stroke="#e8e8e8" stroke-width="0.90" fill="none"/>
<path d="M395.60 215.32h1.10M543.40 215.32h-1.10M395.60 223.44h1.70M543.40 223.44h-1.70M395.60 231.57h1.10M543.40 231.57h-1.10M395.60 239.69h1.70M543.40 239.69h-1.70M395.60 247.81h1.10M543.40 247.81h-1.10M395.60 255.93h1.70M543.40 255.93h-1.70M395.60 264.06h1.10M543.40 264.06h-1.10M395.60 272.18h1.70M543.40 272.18h-1.70M395.60 280.30h1.10M543.40 280.30h-1.10M395.60 288.42h1.70M543.40 288.42h-1.70M395.60 296.54h1.10M543.40 296.54h-1.10M395.60 304.67h1.70M543.40 304.67h-1.70M395.60 312.79h1.10M543.40 312.79h-1.10M395.60 320.91h1.70M543.40 320.91h-1.70M395.60 329.03h1.10M543.40 329.03h-1.10M395.60 337.16h1.70M543.40 337.16h-1.70M395.60 345.28h1.10M543.40 345.28h-1.10M420.23 353.40v-1.10M420.23 207.20v1.10M444.87 353.40v-1.70M444.87 207.20v1.70M469.50 353.40v-1.10M469.50 207.20v1.10M494.13 353.40v-1.70M494.13 207.20v1.70M518.77 353.40v-1.10M518.77 207.20v1.10" stroke="#2a2a2a" stroke-width="1" fill="none"/>
<path d="M454.8 353.2 455.2 353.4 455.7 353.1 456.1 352.5 456.6 352.4 457.0 352.8 457.5 353.4 457.9 352.6 457.9 352.6 458.4 352.0 458.8 350.7 459.3 349.3 459.7 347.7 460.0 348.0 460.2 347.3 460.6 346.1 461.1 345.6 461.5 344.1 462.0 344.5 462.1 343.9 462.4 345.0 462.9 341.8 463.3 342.0 463.8 341.9 464.1 341.8 464.2 339.5 464.7 341.0 465.1 339.4 465.6 337.6 465.6 337.9 466.0 336.4 466.5 331.6 466.8 331.4 466.9 329.8 467.4 330.0 467.8 326.3 468.3 325.2 468.3 325.5 468.7 322.9 469.2 321.6 469.6 320.6 469.7 319.0 470.1 316.1 470.5 311.0 471.0 310.7 471.0 310.4 471.4 311.2 471.9 312.1 472.0 310.7 472.3 310.9 472.8 304.9 473.0 302.4 473.2 298.9 473.7 296.1 474.1 294.1 474.1 294.2 474.6 291.0 475.0 291.2 475.1 290.0 475.5 289.0 475.9 285.5 476.1 285.8 476.4 285.3 476.8 283.4 477.2 281.7 477.3 282.0 477.7 280.7 478.2 282.1 478.6 277.5 478.6 276.1 479.1 275.1 479.5 274.0 480.0 275.4 480.1 275.5 480.4 272.5 480.9 271.5 481.3 269.2 481.3 269.4 481.8 272.4 482.2 275.5 482.2 272.2 482.7 274.3 483.1 265.7 483.2 267.2 483.6 272.5 484.0 275.9 484.2 278.6 484.5 279.6 484.9 272.4 485.3 269.2 485.4 269.4 485.8 266.2 486.3 263.9 486.3 265.1 486.7 263.8 487.2 258.5 487.5 261.0 487.6 259.3 488.1 258.8 488.5 255.1 488.6 254.7 489.0 251.5 489.4 248.0 489.6 246.5 489.9 242.3 490.3 240.4 490.4 240.2 490.8 244.8 491.2 251.8 491.5 256.8 491.7 253.3 492.1 250.0 492.5 246.5 492.6 243.9 493.0 242.1 493.5 236.9 493.6 236.1 493.9 236.1 494.4 239.5 494.6 240.2 494.8 240.5 495.3 236.6 495.6 238.2 495.7 237.6 496.2 241.7 496.6 240.6 496.7 240.2 497.1 237.2 497.5 226.9 497.7 225.7 498.0 220.9 498.3 215.4 498.4 215.1 498.9 224.2 499.3 233.2 499.4 231.9 499.8 237.3 500.2 242.4 500.4 244.4 500.7 242.0 501.1 242.3 501.4 240.2 501.6 240.6 502.0 242.6 502.5 242.3 502.5 243.9 502.9 244.7 503.4 245.3 503.5 244.4 503.8 245.1 504.3 246.3 504.5 248.5 504.7 245.3 505.2 238.0 505.6 236.1 505.6 237.9 506.1 231.8 506.5 230.3 506.6 231.9 507.0 239.9 507.4 253.7 507.6 254.7 507.9 255.9 508.3 256.1 508.7 258.9 508.8 258.2 509.2 258.5 509.7 260.2 509.7 261.0 510.1 260.7 510.6 268.5 510.8 267.2 511.0 267.1 511.5 268.0 511.8 267.2 511.9 266.8 512.4 272.2 512.8 273.4 512.8 272.8 513.3 276.7 513.7 279.3 513.9 279.6 514.2 280.3 514.6 283.3 514.9 283.8 515.1 283.6 515.5 287.8 515.9 292.0 516.0 290.6 516.4 293.7 516.9 296.2 517.0 296.2 517.3 291.6 517.8 288.3 518.0 285.8 518.2 286.8 518.7 290.2 519.0 292.0 519.1 292.4 519.6 293.1 520.0 294.4 520.1 294.1 520.5 294.7 520.9 294.8 521.1 298.3 521.4 299.4 521.8 291.7 522.2 292.0 522.3 292.5 522.7 288.2 523.2 287.9 523.2 288.2 523.6 292.4 524.1 295.7 524.2 300.3 524.5 304.2 525.0 302.9 525.3 304.5 525.4 306.3 525.9 305.8 526.3 308.6 526.3 308.8 526.8 311.1 527.2 316.2 527.3 314.8 527.7 317.0 528.1 316.2 528.4 319.0 528.6 320.4 529.0 321.9 529.4 323.1 529.5 323.2 529.9 324.8 530.4 324.1 530.8 325.0 531.1 325.2 531.3 326.7 531.7 326.9 532.2 327.0 532.5 327.3 532.6 328.4 533.1 327.7 533.5 329.8 533.6 329.4 534.0 328.4 534.4 328.3 534.6 327.3 534.9 329.5 535.3 330.6 535.6 331.4 535.8 332.1 536.2 331.5 536.7 333.5 536.7 332.6 537.1 332.2 537.6 331.8 537.7 330.4 538.0 331.9 538.5 334.1 538.7 335.6 538.9 335.3 539.4 337.1 539.8 336.2 540.2 337.6 540.3 337.2 540.7 337.9 541.2 338.6 541.6 339.6 541.8 339.7 542.1 339.8 542.5 341.5 543.0 340.6 543.3 341.8 543.3 341.8" stroke="#000" stroke-width="1.30" fill="none" stroke-linejoin="round"/>
<rect x="395.60" y="207.20" width="147.80" height="146.20" fill="none" stroke="#2a2a2a" stroke-width="1.15"/>
<path d="M404.60 216.10h6.6v1.3h-6.6zM405.60 216.10h1.45v5.50h-1.45zM408.70 216.10h1.45v5.50h-1.45zM412.00 218.60h2.2v1.1h-2.2zM415.30 216.10h6.6v1.3h-6.6zM416.30 216.10h1.45v5.50h-1.45zM419.40 216.10h1.45v5.50h-1.45z" fill="#1a1a1a"/>
<text class="lb" transform="translate(404.40 233.40) scale(1.045 1)" font-size="10.30">(C)<tspan font-weight="bold">C</tspan>N</text>
<text class="lb" transform="translate(404.40 245.30) scale(1.045 1)" font-size="10.30"><tspan font-weight="bold">C</tspan>(C<tspan font-size="6.00">3</tspan>)</text>
<text x="531.20" y="226.60" font-size="14.00" text-anchor="middle">f</text>
<text x="395.60" y="364.60" font-size="9.80" text-anchor="middle">2</text>
<text x="444.87" y="364.60" font-size="9.80" text-anchor="middle">3</text>
<text x="494.13" y="364.60" font-size="9.80" text-anchor="middle">4</text>
<text x="543.40" y="364.60" font-size="9.80" text-anchor="middle">5</text>
<text x="469.50" y="382.60" font-size="10.00" text-anchor="middle">Distance [Å]</text>
<text transform="translate(385.70 280.30) rotate(-90) scale(1.040 1)" font-size="10.00" text-anchor="middle">Probability [arb.]</text>
<path d="M48.62 408.10V554.30M73.23 408.10V554.30M97.85 408.10V554.30M122.47 408.10V554.30M147.08 408.10V554.30M24.00 428.99H171.70M24.00 449.87H171.70M24.00 470.76H171.70M24.00 491.64H171.70M24.00 512.53H171.70M24.00 533.41H171.70" stroke="#e8e8e8" stroke-width="0.90" fill="none"/>
<path d="M24.00 418.54h1.10M171.70 418.54h-1.10M24.00 428.99h1.70M171.70 428.99h-1.70M24.00 439.43h1.10M171.70 439.43h-1.10M24.00 449.87h1.70M171.70 449.87h-1.70M24.00 460.31h1.10M171.70 460.31h-1.10M24.00 470.76h1.70M171.70 470.76h-1.70M24.00 481.20h1.10M171.70 481.20h-1.10M24.00 491.64h1.70M171.70 491.64h-1.70M24.00 502.09h1.10M171.70 502.09h-1.10M24.00 512.53h1.70M171.70 512.53h-1.70M24.00 522.97h1.10M171.70 522.97h-1.10M24.00 533.41h1.70M171.70 533.41h-1.70M24.00 543.86h1.10M171.70 543.86h-1.10M48.62 554.30v-1.10M48.62 408.10v1.10M73.23 554.30v-1.70M73.23 408.10v1.70M97.85 554.30v-1.10M97.85 408.10v1.10M122.47 554.30v-1.70M122.47 408.10v1.70M147.08 554.30v-1.10M147.08 408.10v1.10" stroke="#2a2a2a" stroke-width="1" fill="none"/>
<path d="M71.4 554.3 71.8 553.6 72.3 553.8 72.7 553.4 73.2 552.9 73.6 553.3 74.1 551.8 74.5 552.1 74.5 553.0 75.0 551.3 75.4 550.6 75.9 551.2 76.3 549.9 76.6 550.0 76.8 549.0 77.2 549.6 77.7 548.0 78.1 548.3 78.6 547.5 78.7 546.9 79.0 546.0 79.5 546.2 79.9 544.3 80.3 542.8 80.4 543.0 80.8 539.6 81.3 539.5 81.7 536.6 81.8 536.6 82.2 534.2 82.6 529.7 82.8 528.3 83.1 527.4 83.5 521.9 83.8 522.1 84.0 522.6 84.4 519.7 84.9 515.8 84.9 515.2 85.3 514.3 85.8 513.9 85.9 511.7 86.2 506.9 86.7 497.9 86.9 495.1 87.1 492.3 87.6 484.9 88.0 478.5 88.0 478.2 88.5 475.7 88.9 466.6 89.0 466.1 89.4 463.3 89.8 460.3 90.1 460.9 90.3 458.2 90.7 454.5 91.1 451.6 91.2 451.5 91.6 449.4 92.1 446.2 92.1 443.3 92.5 444.8 93.0 440.6 93.2 441.2 93.4 436.2 93.9 432.8 94.2 430.9 94.3 426.6 94.8 427.3 95.2 424.7 95.2 425.0 95.7 417.5 96.1 413.5 96.3 415.3 96.6 416.7 97.0 420.5 97.3 420.5 97.5 421.1 97.9 424.6 98.3 426.7 98.4 424.1 98.8 426.5 99.3 417.2 99.4 418.4 99.7 420.1 100.2 421.6 100.4 422.6 100.6 423.1 101.1 421.6 101.5 417.4 101.5 420.6 102.0 421.2 102.4 426.8 102.5 424.7 102.9 425.5 103.3 426.8 103.5 422.6 103.8 424.6 104.2 426.8 104.6 428.8 104.7 428.2 105.1 427.5 105.6 430.9 105.6 432.0 106.0 433.0 106.5 435.4 106.6 435.0 106.9 439.1 107.4 435.6 107.7 439.2 107.8 441.1 108.3 444.4 108.7 447.5 108.7 450.0 109.2 452.9 109.6 453.0 109.7 455.7 110.1 458.1 110.5 464.2 110.8 464.0 111.0 467.4 111.4 471.0 111.8 474.4 111.9 475.3 112.3 476.2 112.8 477.8 112.8 480.6 113.2 483.0 113.7 487.9 113.9 488.9 114.1 491.5 114.6 493.3 114.9 497.2 115.0 499.1 115.5 503.2 115.9 504.8 116.0 505.5 116.4 509.3 116.8 513.5 117.0 513.8 117.3 515.7 117.7 518.7 118.0 519.0 118.2 518.1 118.6 520.9 119.1 522.1 119.1 522.4 119.5 524.5 120.0 524.8 120.1 526.2 120.4 527.5 120.9 525.3 121.1 528.3 121.3 529.3 121.8 530.3 122.2 530.4 122.2 529.4 122.7 530.3 123.1 532.0 123.2 531.4 123.6 532.3 124.0 533.6 124.2 533.5 124.5 533.5 124.9 534.5 125.4 535.2 125.8 534.5 125.9 535.5 126.3 537.4 126.7 538.5 127.2 538.3 127.4 538.6 127.6 540.6 128.1 538.5 128.5 542.1 129.0 540.6 129.0 541.8 129.4 541.8 129.9 540.5 130.3 543.9 130.5 542.8 130.8 542.7 131.2 544.3 131.7 545.7 132.1 544.9 132.1 544.6 132.6 544.8 133.0 546.3 133.5 548.5 133.6 548.0 133.9 547.5 134.4 549.1 134.8 547.9 135.3 550.0 135.6 549.0 135.7 548.8 136.2 550.0 136.6 549.0 137.1 549.1 137.5 550.4 137.7 550.0 138.0 550.2 138.4 550.0 138.9 550.4 139.3 549.6 139.8 551.1 139.8 550.1 140.2 551.4 140.7 552.3 141.1 552.1 141.6 552.1 142.0 552.0 142.5 551.3 142.9 552.1 142.9 552.6 143.4 552.6 143.8 552.7 144.3 553.1 144.7 552.3 145.2 552.4 145.6 554.0 146.1 554.0 146.5 553.1 147.0 553.0 147.0 553.2 147.4 552.4 147.9 552.2 148.3 552.9 148.8 552.7 149.2 551.8 149.7 552.1 150.1 551.5 150.6 551.5 150.8 551.1 151.0 550.9 151.5 552.3 151.9 552.9 152.2 553.2 152.4 553.7 152.8 553.5 153.3 553.5 153.7 553.3 154.2 553.0 154.6 553.5 155.1 552.7 155.3 553.6 155.5 553.1 156.0 553.5 156.4 552.6 156.9 553.4 157.3 553.7 157.8 553.2 158.2 553.0 158.7 553.0 159.1 553.8 159.5 553.6 159.6 552.4 160.0 552.9 160.5 553.5 160.9 552.9 161.4 554.0 161.8 553.4 162.3 552.9 162.7 552.9 163.2 553.5 163.6 553.6 163.6 553.2 164.1 553.6 164.5 553.6 165.0 553.5 165.4 553.3 165.9 552.7 166.3 553.2 166.8 554.1 167.2 553.9 167.7 554.1 168.1 553.7 168.6 552.6 169.0 554.3 169.5 553.8 169.9 553.9 170.4 554.3 170.8 554.3 170.9 554.0 170.9 554.0" stroke="#000" stroke-width="1.30" fill="none" stroke-linejoin="round"/>
<rect x="24.00" y="408.10" width="147.70" height="146.20" fill="none" stroke="#2a2a2a" stroke-width="1.15"/>
<path d="M33.00 416.60h6.6v1.3h-6.6zM34.00 416.60h1.45v5.50h-1.45zM37.10 416.60h1.45v5.50h-1.45zM40.40 419.10h2.2v1.1h-2.2zM43.70 416.60h6.6v1.3h-6.6zM44.70 416.60h1.45v5.50h-1.45zM47.80 416.60h1.45v5.50h-1.45z" fill="#1a1a1a"/>
<text class="lb" transform="translate(32.80 433.90) scale(1.045 1)" font-size="10.30">(C)<tspan font-weight="bold">C</tspan>N</text>
<text class="lb" transform="translate(32.80 445.80) scale(1.045 1)" font-size="10.30"><tspan font-weight="bold">C</tspan>(C<tspan font-size="6.00">3</tspan>)</text>
<text x="159.50" y="423.50" font-size="14.00" text-anchor="middle">g</text>
<text x="24.00" y="565.50" font-size="9.80" text-anchor="middle">2</text>
<text x="73.23" y="565.50" font-size="9.80" text-anchor="middle">3</text>
<text x="122.47" y="565.50" font-size="9.80" text-anchor="middle">4</text>
<text x="171.70" y="565.50" font-size="9.80" text-anchor="middle">5</text>
<text x="97.85" y="583.50" font-size="10.00" text-anchor="middle">Distance [Å]</text>
<text transform="translate(14.10 481.20) rotate(-90) scale(1.040 1)" font-size="10.00" text-anchor="middle">Probability [arb.]</text>
<path d="M234.57 408.10V554.30M259.13 408.10V554.30M283.70 408.10V554.30M308.27 408.10V554.30M332.83 408.10V554.30M210.00 437.34H357.40M210.00 466.58H357.40M210.00 495.82H357.40M210.00 525.06H357.40" stroke="#e8e8e8" stroke-width="0.90" fill="none"/>
<path d="M210.00 422.72h1.10M357.40 422.72h-1.10M210.00 437.34h1.70M357.40 437.34h-1.70M210.00 451.96h1.10M357.40 451.96h-1.10M210.00 466.58h1.70M357.40 466.58h-1.70M210.00 481.20h1.10M357.40 481.20h-1.10M210.00 495.82h1.70M357.40 495.82h-1.70M210.00 510.44h1.10M357.40 510.44h-1.10M210.00 525.06h1.70M357.40 525.06h-1.70M210.00 539.68h1.10M357.40 539.68h-1.10M234.57 554.30v-1.10M234.57 408.10v1.10M259.13 554.30v-1.70M259.13 408.10v1.70M283.70 554.30v-1.10M283.70 408.10v1.10M308.27 554.30v-1.70M308.27 408.10v1.70M332.83 554.30v-1.10M332.83 408.10v1.10" stroke="#2a2a2a" stroke-width="1" fill="none"/>
<path d="M253.3 554.1 253.7 552.2 254.2 553.2 254.6 549.8 255.1 549.8 255.3 549.0 255.5 549.8 256.0 550.9 256.4 553.6 256.4 553.8 256.9 552.5 257.3 552.9 257.8 551.9 258.2 552.2 258.4 552.1 258.7 551.6 259.1 552.4 259.6 550.0 260.0 549.2 260.5 550.2 260.5 549.0 260.9 548.0 261.4 548.5 261.8 547.3 262.3 546.5 262.6 546.9 262.7 548.1 263.2 546.5 263.6 545.1 264.1 545.8 264.5 544.1 264.7 544.9 265.0 543.5 265.4 539.8 265.7 538.6 265.9 537.6 266.3 536.0 266.7 532.4 266.8 533.1 267.2 529.8 267.7 527.4 267.8 526.2 268.1 523.9 268.6 519.5 268.8 517.9 269.0 519.5 269.5 522.6 269.8 526.2 269.9 527.4 270.4 524.6 270.8 522.6 270.9 524.1 271.3 521.6 271.7 523.1 271.9 520.0 272.2 516.8 272.6 513.2 272.9 507.6 273.1 507.9 273.5 507.4 274.0 508.8 274.0 509.6 274.4 507.1 274.9 503.5 275.0 503.4 275.3 500.5 275.8 501.1 276.1 499.3 276.2 498.5 276.7 495.6 277.1 495.1 277.1 493.0 277.6 489.7 278.0 486.5 278.1 484.8 278.5 475.6 278.7 468.2 278.9 464.7 279.4 461.3 279.6 455.7 279.8 458.1 280.3 458.6 280.6 462.0 280.7 463.3 281.2 456.4 281.6 453.6 281.6 453.7 282.1 454.6 282.5 456.9 282.7 459.9 283.0 457.0 283.4 453.2 283.7 451.6 283.9 451.3 284.3 454.2 284.8 456.0 284.8 455.7 285.2 451.3 285.7 447.9 285.8 447.5 286.1 446.9 286.6 449.0 286.8 451.6 287.0 448.6 287.5 447.0 287.9 443.3 287.9 441.1 288.4 436.4 288.8 431.3 288.9 430.9 289.3 433.6 289.7 435.3 289.9 437.1 290.2 439.1 290.6 443.3 290.6 444.8 291.1 444.5 291.5 444.5 291.6 447.5 292.0 448.2 292.4 448.4 292.6 449.5 292.9 444.5 293.3 436.2 293.7 428.8 293.8 428.1 294.2 418.1 294.5 416.4 294.7 416.5 295.1 424.0 295.3 428.8 295.6 428.5 296.0 429.1 296.4 426.7 296.5 428.5 296.9 435.2 297.4 440.3 297.4 441.2 297.8 446.5 298.3 448.0 298.4 451.6 298.7 456.3 299.2 462.7 299.5 468.2 299.6 466.6 300.1 463.9 300.3 459.9 300.5 456.7 301.0 457.0 301.3 455.7 301.4 453.3 301.9 453.9 302.3 451.5 302.4 451.6 302.8 455.3 303.2 456.9 303.6 459.9 303.7 461.1 304.1 460.4 304.6 460.6 304.7 462.0 305.0 464.6 305.5 464.4 305.9 465.8 306.1 466.1 306.4 466.6 306.8 475.3 307.1 478.5 307.3 478.9 307.7 481.3 308.2 484.4 308.2 484.8 308.6 489.0 309.1 487.3 309.2 488.9 309.5 487.7 310.0 492.3 310.2 493.0 310.4 493.9 310.9 493.5 311.3 497.2 311.3 497.7 311.8 501.5 312.2 505.0 312.3 507.6 312.7 506.3 313.1 504.6 313.4 503.4 313.6 502.2 314.0 505.4 314.4 505.5 314.5 504.4 314.9 507.0 315.4 506.3 315.4 507.6 315.8 505.9 316.3 510.0 316.5 509.6 316.7 509.0 317.2 513.3 317.5 513.8 317.6 516.3 318.1 516.5 318.5 516.8 318.5 517.9 319.0 518.7 319.4 519.9 319.6 520.0 319.9 520.1 320.3 523.1 320.6 522.1 320.8 521.6 321.2 524.1 321.6 524.1 321.7 524.3 322.1 523.9 322.6 526.7 322.7 526.2 323.0 527.4 323.5 529.0 323.9 527.8 324.4 527.4 324.8 530.4 324.8 529.3 325.3 531.1 325.7 532.2 326.2 532.6 326.6 532.1 326.8 532.4 327.1 531.1 327.5 530.4 328.0 530.4 328.4 531.4 328.9 529.3 328.9 529.3 329.3 533.0 329.8 532.6 329.9 534.5 330.2 536.0 330.7 535.5 331.1 534.6 331.6 537.5 332.0 536.6 332.0 536.6 332.5 536.2 332.9 537.6 333.4 539.6 333.8 539.1 334.1 539.7 334.3 541.2 334.7 541.0 335.2 539.2 335.6 540.9 336.1 541.7 336.2 542.8 336.5 542.4 337.0 542.0 337.2 540.7 337.4 540.8 337.9 542.9 338.3 544.2 338.8 545.5 339.2 546.3 339.3 546.9 339.7 546.0 340.1 549.0 340.6 548.9 341.0 548.2 341.3 548.0 341.5 547.1 341.9 547.7 342.4 548.5 342.8 547.7 343.3 547.9 343.4 548.0 343.7 547.3 344.2 547.6 344.6 547.1 345.1 546.6 345.5 546.9 345.5 547.0 346.0 546.5 346.4 548.2 346.9 547.5 347.3 546.2 347.6 548.0 347.8 547.6 348.2 548.8 348.7 549.2 349.1 549.4 349.6 549.3 349.6 549.0 350.0 547.9 350.5 547.3 350.9 547.5 351.4 546.9 351.7 546.9 351.8 546.8 352.3 548.3 352.7 547.9 353.2 548.3 353.6 549.0 353.8 549.0 354.1 548.4 354.5 548.4 355.0 548.1 355.4 549.6 355.9 551.1 356.3 550.5 356.8 549.8 356.9 550.0 356.9 550.0" stroke="#000" stroke-width="1.30" fill="none" stroke-linejoin="round"/>
<rect x="210.00" y="408.10" width="147.40" height="146.20" fill="none" stroke="#2a2a2a" stroke-width="1.15"/>
<path d="M219.00 416.60h6.6v1.3h-6.6zM220.00 416.60h1.45v5.50h-1.45zM223.10 416.60h1.45v5.50h-1.45zM226.40 419.10h2.2v1.1h-2.2zM229.70 416.60h6.6v1.3h-6.6zM230.70 416.60h1.45v5.50h-1.45zM233.80 416.60h1.45v5.50h-1.45z" fill="#1a1a1a"/>
<text class="lb" transform="translate(218.80 433.90) scale(1.045 1)" font-size="10.30">C<tspan font-weight="bold">N</tspan></text>
<text class="lb" transform="translate(218.80 445.80) scale(1.045 1)" font-size="10.30"><tspan font-weight="bold">C</tspan>(C<tspan font-size="6.00">3</tspan>)</text>
<text x="345.20" y="423.50" font-size="14.00" text-anchor="middle">h</text>
<text x="210.00" y="565.50" font-size="9.80" text-anchor="middle">2</text>
<text x="259.13" y="565.50" font-size="9.80" text-anchor="middle">3</text>
<text x="308.27" y="565.50" font-size="9.80" text-anchor="middle">4</text>
<text x="357.40" y="565.50" font-size="9.80" text-anchor="middle">5</text>
<text x="283.70" y="583.50" font-size="10.00" text-anchor="middle">Distance [Å]</text>
<text transform="translate(200.10 481.20) rotate(-90) scale(1.040 1)" font-size="10.00" text-anchor="middle">Probability [arb.]</text>
<path d="M420.23 408.10V554.30M444.87 408.10V554.30M469.50 408.10V554.30M494.13 408.10V554.30M518.77 408.10V554.30M395.60 428.99H543.40M395.60 449.87H543.40M395.60 470.76H543.40M395.60 491.64H543.40M395.60 512.53H543.40M395.60 533.41H543.40" stroke="#e8e8e8" stroke-width="0.90" fill="none"/>
<path d="M395.60 418.54h1.10M543.40 418.54h-1.10M395.60 428.99h1.70M543.40 428.99h-1.70M395.60 439.43h1.10M543.40 439.43h-1.10M395.60 449.87h1.70M543.40 449.87h-1.70M395.60 460.31h1.10M543.40 460.31h-1.10M395.60 470.76h1.70M543.40 470.76h-1.70M395.60 481.20h1.10M543.40 481.20h-1.10M395.60 491.64h1.70M543.40 491.64h-1.70M395.60 502.09h1.10M543.40 502.09h-1.10M395.60 512.53h1.70M543.40 512.53h-1.70M395.60 522.97h1.10M543.40 522.97h-1.10M395.60 533.41h1.70M543.40 533.41h-1.70M395.60 543.86h1.10M543.40 543.86h-1.10M420.23 554.30v-1.10M420.23 408.10v1.10M444.87 554.30v-1.70M444.87 408.10v1.70M469.50 554.30v-1.10M469.50 408.10v1.10M494.13 554.30v-1.70M494.13 408.10v1.70M518.77 554.30v-1.10M518.77 408.10v1.10" stroke="#2a2a2a" stroke-width="1" fill="none"/>
<path d="M443.4 554.3 443.8 551.7 444.3 549.7 444.4 549.0 444.7 547.4 445.2 544.8 445.5 544.9 445.6 542.8 446.1 541.6 446.5 540.7 446.5 540.4 447.0 541.7 447.4 542.4 447.5 542.8 447.9 543.6 448.3 544.6 448.6 546.9 448.8 546.7 449.2 548.9 449.6 548.0 449.7 548.2 450.1 547.7 450.6 548.1 450.7 546.9 451.0 547.7 451.5 549.6 451.7 549.0 451.9 547.3 452.4 547.9 452.7 546.9 452.8 545.5 453.3 544.2 453.7 541.7 453.8 542.8 454.2 541.9 454.6 538.8 454.8 538.6 455.1 537.5 455.5 537.3 455.8 536.6 456.0 537.8 456.4 536.3 456.9 538.6 456.9 539.5 457.3 535.9 457.8 535.2 457.9 534.5 458.2 533.0 458.7 526.7 458.9 526.2 459.1 525.7 459.6 520.2 460.0 517.9 460.0 519.0 460.5 519.4 460.9 520.0 461.0 522.1 461.4 519.1 461.8 511.1 462.1 511.7 462.3 512.7 462.7 508.7 463.1 507.6 463.2 507.5 463.6 502.8 464.1 502.4 464.1 499.3 464.5 495.9 465.0 493.6 465.2 491.0 465.4 493.5 465.9 495.6 466.2 497.2 466.3 497.2 466.8 495.7 467.2 495.1 467.2 496.8 467.6 478.5 467.7 482.9 468.1 495.8 468.3 501.3 468.6 497.2 469.0 489.6 469.3 484.8 469.5 482.4 469.9 478.0 470.3 472.3 470.4 472.7 470.8 468.7 471.3 467.8 471.4 468.2 471.7 466.8 472.2 473.0 472.4 474.4 472.6 470.8 473.1 470.0 473.5 466.1 473.5 468.5 474.0 472.2 474.4 478.6 474.5 478.5 474.9 474.9 475.3 472.5 475.5 472.3 475.8 473.3 476.2 474.7 476.6 476.5 476.7 473.4 477.1 460.5 477.6 447.5 477.6 443.5 478.0 432.4 478.2 428.8 478.5 432.9 478.9 443.5 479.3 449.5 479.4 444.7 479.8 439.7 480.1 437.1 480.3 439.6 480.7 448.7 481.1 451.6 481.2 451.9 481.6 449.4 482.1 447.6 482.2 447.5 482.5 449.0 483.0 444.0 483.2 443.3 483.4 445.9 483.9 447.6 484.2 449.5 484.3 452.8 484.8 449.3 485.2 455.8 485.3 455.7 485.7 449.6 486.1 440.9 486.3 439.2 486.6 436.1 487.0 427.3 487.3 426.7 487.5 426.7 487.9 433.9 488.4 437.1 488.4 437.1 488.8 441.4 489.2 443.3 489.3 442.2 489.7 437.0 490.0 432.9 490.2 425.6 490.6 410.4 490.7 408.1 491.1 414.9 491.5 425.7 491.7 426.7 492.0 431.2 492.4 436.4 492.7 441.2 492.9 437.9 493.3 434.1 493.8 428.8 493.8 428.6 494.2 432.9 494.7 436.5 494.8 435.0 495.1 430.0 495.6 429.4 495.8 426.7 496.0 431.3 496.5 430.1 496.9 437.1 496.9 437.2 497.4 436.3 497.8 427.3 497.9 430.9 498.3 425.2 498.7 424.7 498.7 425.1 499.2 430.8 499.6 436.7 499.8 437.1 500.1 438.5 500.5 439.2 500.8 443.3 501.0 443.3 501.4 442.3 501.8 441.2 501.9 442.2 502.3 441.1 502.8 449.2 502.9 447.5 503.2 454.8 503.7 453.4 503.9 457.8 504.1 457.2 504.6 457.0 505.0 451.6 505.0 454.1 505.5 458.8 505.6 464.0 505.9 462.9 506.4 458.5 506.6 455.7 506.8 456.5 507.3 463.6 507.6 466.1 507.7 466.1 508.2 461.8 508.6 461.5 508.7 459.9 509.1 456.6 509.5 457.3 509.7 457.8 510.0 455.7 510.4 459.9 510.8 462.0 510.9 463.8 511.3 465.3 511.8 468.2 511.8 470.0 512.2 467.3 512.7 470.9 512.8 472.3 513.1 477.5 513.6 481.8 513.9 484.8 514.0 480.9 514.5 476.0 514.9 472.3 514.9 474.2 515.4 475.6 515.8 482.1 515.9 482.7 516.3 479.1 516.7 476.9 517.0 474.4 517.2 471.6 517.6 470.8 518.0 468.2 518.1 470.5 518.5 473.2 519.0 477.9 519.0 478.5 519.4 482.2 519.9 485.5 520.1 484.8 520.3 486.9 520.8 489.1 521.1 488.9 521.2 486.8 521.7 484.9 522.1 483.6 522.2 482.7 522.6 483.4 523.0 485.5 523.2 486.8 523.5 483.9 523.9 484.9 524.2 484.8 524.4 485.7 524.8 489.2 525.3 493.0 525.3 492.3 525.7 494.5 526.2 498.3 526.3 497.2 526.6 498.7 527.1 500.9 527.3 501.3 527.5 502.6 528.0 505.7 528.4 507.6 528.4 510.0 528.9 508.5 529.3 510.0 529.4 509.6 529.8 507.3 530.2 508.1 530.4 505.5 530.7 506.4 531.1 504.7 531.5 507.6 531.6 508.0 532.0 510.5 532.5 510.6 532.5 509.6 532.9 510.7 533.4 513.1 533.6 511.7 533.8 513.0 534.3 517.2 534.6 517.9 534.7 519.5 535.2 520.5 535.6 522.1 535.6 523.9 536.1 522.7 536.5 525.9 536.7 526.2 537.0 526.4 537.4 527.3 537.7 529.3 537.9 529.2 538.3 529.5 538.7 530.4 538.8 529.1 539.2 529.7 539.7 531.4 539.8 530.4 540.1 529.1 540.6 527.2 540.8 526.2 541.0 524.9 541.5 522.3 541.8 523.1 541.9 523.0 542.4 524.2 542.8 529.2 543.3 528.3 543.3 528.3" stroke="#000" stroke-width="1.30" fill="none" stroke-linejoin="round"/>
<rect x="395.60" y="408.10" width="147.80" height="146.20" fill="none" stroke="#2a2a2a" stroke-width="1.15"/>
<path d="M404.60 416.60h6.6v1.3h-6.6zM405.60 416.60h1.45v5.50h-1.45zM408.70 416.60h1.45v5.50h-1.45zM412.00 419.10h2.2v1.1h-2.2zM415.30 416.60h6.6v1.3h-6.6zM416.30 416.60h1.45v5.50h-1.45zM419.40 416.60h1.45v5.50h-1.45z" fill="#1a1a1a"/>
<text class="lb" transform="translate(404.40 433.90) scale(1.045 1)" font-size="10.30">C<tspan font-weight="bold">N</tspan></text>
<text class="lb" transform="translate(404.40 445.80) scale(1.045 1)" font-size="10.30"><tspan font-weight="bold">C</tspan>(C<tspan font-size="6.00">3</tspan>)</text>
<text x="531.20" y="423.50" font-size="14.00" text-anchor="middle">i</text>
<text x="395.60" y="565.50" font-size="9.80" text-anchor="middle">2</text>
<text x="444.87" y="565.50" font-size="9.80" text-anchor="middle">3</text>
<text x="494.13" y="565.50" font-size="9.80" text-anchor="middle">4</text>
<text x="543.40" y="565.50" font-size="9.80" text-anchor="middle">5</text>
<text x="469.50" y="583.50" font-size="10.00" text-anchor="middle">Distance [Å]</text>
<text transform="translate(385.70 481.20) rotate(-90) scale(1.040 1)" font-size="10.00" text-anchor="middle">Probability [arb.]</text>
<path d="M48.62 608.90V755.60M73.23 608.90V755.60M97.85 608.90V755.60M122.47 608.90V755.60M147.08 608.90V755.60M24.00 633.35H171.70M24.00 657.80H171.70M24.00 682.25H171.70M24.00 706.70H171.70M24.00 731.15H171.70" stroke="#e8e8e8" stroke-width="0.90" fill="none"/>
<path d="M24.00 621.12h1.10M171.70 621.12h-1.10M24.00 633.35h1.70M171.70 633.35h-1.70M24.00 645.58h1.10M171.70 645.58h-1.10M24.00 657.80h1.70M171.70 657.80h-1.70M24.00 670.02h1.10M171.70 670.02h-1.10M24.00 682.25h1.70M171.70 682.25h-1.70M24.00 694.48h1.10M171.70 694.48h-1.10M24.00 706.70h1.70M171.70 706.70h-1.70M24.00 718.92h1.10M171.70 718.92h-1.10M24.00 731.15h1.70M171.70 731.15h-1.70M24.00 743.38h1.10M171.70 743.38h-1.10M48.62 755.60v-1.10M48.62 608.90v1.10M73.23 755.60v-1.70M73.23 608.90v1.70M97.85 755.60v-1.10M97.85 608.90v1.10M122.47 755.60v-1.70M122.47 608.90v1.70M147.08 755.60v-1.10M147.08 608.90v1.10" stroke="#2a2a2a" stroke-width="1" fill="none"/>
<path d="M57.6 755.6 58.1 755.6 58.5 754.0 59.0 755.3 59.4 754.8 59.9 753.8 60.0 753.6 60.3 752.9 60.8 753.6 61.2 752.4 61.7 752.1 62.1 754.1 62.3 752.5 62.6 751.2 63.0 750.8 63.5 749.1 63.9 750.1 64.2 749.0 64.4 749.1 64.8 746.4 65.3 745.6 65.7 743.9 65.8 744.3 66.2 743.2 66.6 744.0 67.1 742.7 67.4 739.7 67.5 739.2 68.0 736.6 68.4 734.3 68.8 732.7 68.9 732.2 69.3 732.0 69.8 729.6 70.0 728.0 70.2 726.3 70.7 721.0 71.1 718.7 71.1 717.7 71.6 716.3 72.0 711.5 72.3 711.7 72.5 711.3 72.9 706.8 73.4 702.2 73.5 702.4 73.8 701.4 74.3 696.1 74.4 695.4 74.7 691.4 75.2 686.1 75.6 683.8 75.6 683.4 76.1 678.4 76.5 676.6 76.7 674.5 77.0 674.2 77.4 669.0 77.9 667.5 77.9 671.2 78.3 669.1 78.8 673.9 79.0 674.5 79.2 670.8 79.7 667.8 80.1 661.4 80.2 660.5 80.6 658.3 80.9 653.5 81.0 653.4 81.5 647.5 81.9 649.8 82.1 648.9 82.4 654.4 82.8 658.2 82.8 659.4 83.3 650.4 83.7 646.6 83.7 645.8 84.2 650.6 84.6 654.6 84.9 653.5 85.1 654.8 85.5 650.6 86.0 646.5 86.0 646.6 86.4 644.8 86.9 641.5 87.2 641.9 87.3 640.5 87.8 641.4 88.2 636.4 88.4 639.6 88.7 637.2 89.1 634.3 89.5 632.6 89.6 633.7 90.0 629.6 90.5 626.0 90.7 629.1 90.9 631.8 91.4 635.1 91.8 636.2 91.8 637.3 92.3 639.7 92.5 641.9 92.7 643.7 93.2 646.7 93.6 649.0 93.7 648.9 94.1 651.5 94.4 658.2 94.5 654.5 95.0 646.0 95.3 641.9 95.4 644.4 95.9 643.4 96.3 644.7 96.5 646.6 96.8 651.3 97.2 648.6 97.7 651.2 97.7 648.5 98.1 653.2 98.6 654.1 98.8 653.5 99.0 656.5 99.5 656.8 99.9 659.1 100.0 658.2 100.4 659.5 100.8 662.9 101.2 662.9 101.3 663.2 101.7 666.7 102.2 665.3 102.3 667.5 102.6 670.3 103.1 671.3 103.5 672.2 103.5 672.4 104.0 673.9 104.4 674.5 104.6 676.8 104.9 677.0 105.3 679.6 105.8 679.0 105.8 681.5 106.2 681.2 106.7 682.1 107.0 683.8 107.1 682.3 107.6 687.4 108.0 688.9 108.1 690.8 108.5 689.4 108.9 684.2 109.3 686.1 109.4 685.6 109.8 688.2 110.3 688.7 110.5 690.8 110.7 693.6 111.2 695.3 111.6 695.4 111.6 695.3 112.1 698.6 112.5 698.4 112.8 700.1 113.0 701.4 113.4 701.7 113.9 703.4 114.0 704.7 114.3 707.6 114.8 712.3 115.1 711.7 115.2 714.2 115.7 714.0 116.1 718.2 116.3 718.7 116.6 720.3 117.0 721.5 117.4 723.4 117.5 721.5 117.9 726.0 118.4 725.9 118.6 725.7 118.8 726.1 119.3 724.4 119.7 722.0 119.8 723.4 120.2 723.4 120.6 725.1 120.9 726.9 121.1 727.7 121.5 724.4 122.0 723.2 122.1 723.4 122.4 724.9 122.9 726.4 123.3 728.0 123.3 727.9 123.8 730.1 124.2 729.1 124.4 730.3 124.7 730.1 125.1 730.8 125.6 732.2 125.6 732.7 126.0 731.5 126.5 733.5 126.8 733.8 126.9 734.3 127.4 735.3 127.8 735.0 127.9 735.0 128.3 736.3 128.7 737.3 129.1 737.3 129.2 737.7 129.6 737.9 130.1 740.4 130.2 739.7 130.5 740.0 131.0 740.0 131.4 742.0 131.4 743.5 131.9 741.5 132.3 740.3 132.6 739.7 132.8 742.0 133.2 742.8 133.7 744.3 133.7 744.3 134.1 745.0 134.6 746.0 135.0 746.1 135.5 747.0 135.6 746.6 135.9 747.9 136.4 748.1 136.8 747.5 137.3 749.0 137.7 749.6 137.9 749.0 138.2 748.2 138.6 747.7 139.1 750.7 139.5 749.1 140.0 750.0 140.3 750.1 140.4 750.3 140.9 750.8 141.3 751.5 141.8 750.6 142.2 751.9 142.6 751.3 142.7 751.3 143.1 752.1 143.6 751.7 144.0 751.5 144.5 751.6 144.9 752.5 144.9 753.4 145.4 752.1 145.8 752.0 146.3 752.8 146.7 753.1 147.2 753.1 147.2 752.5 147.6 752.0 148.1 751.8 148.5 751.9 149.0 752.4 149.4 751.3 149.6 751.3 149.9 751.0 150.3 750.5 150.8 750.4 151.2 750.4 151.7 748.5 151.9 749.4 152.1 749.4 152.6 749.2 153.0 749.0 153.5 750.6 153.9 749.7 154.2 750.1 154.4 749.9 154.8 749.9 155.3 750.7 155.7 751.9 156.2 752.4 156.5 752.5 156.6 752.3 157.1 751.5 157.5 753.7 158.0 752.9 158.4 754.6 158.9 753.6 158.9 754.1 159.3 752.9 159.8 754.2 160.2 754.2 160.7 753.4 161.1 752.8 161.2 753.1 161.6 753.0 162.0 752.5 162.5 753.8 162.9 753.9 163.4 753.4 163.5 753.6 163.8 753.5 164.3 754.6 164.7 754.0 165.2 754.7 165.6 755.4 165.9 754.8 166.1 754.5 166.5 754.3 167.0 754.5 167.4 755.2 167.9 755.6 168.2 754.8 168.3 754.9 168.8 754.4 169.2 753.8 169.7 753.4 170.1 755.2 170.6 755.6 171.0 755.4 171.5 754.7 171.7 754.8 171.7 754.8" stroke="#000" stroke-width="1.30" fill="none" stroke-linejoin="round"/>
<rect x="24.00" y="608.90" width="147.70" height="146.70" fill="none" stroke="#2a2a2a" stroke-width="1.15"/>
<path d="M33.00 618.50h6.6v1.3h-6.6zM34.00 618.50h1.45v5.50h-1.45zM37.10 618.50h1.45v5.50h-1.45zM40.40 621.00h2.2v1.1h-2.2zM43.70 618.50h6.6v1.3h-6.6zM44.70 618.50h1.45v5.50h-1.45zM47.80 618.50h1.45v5.50h-1.45z" fill="#1a1a1a"/>
<text class="lb" transform="translate(32.80 635.80) scale(1.045 1)" font-size="10.30">C<tspan font-weight="bold">N</tspan></text>
<text class="lb" transform="translate(32.80 647.70) scale(1.045 1)" font-size="10.30"><tspan font-weight="bold">C</tspan>(C<tspan font-size="6.00">3</tspan>)</text>
<text x="159.50" y="626.70" font-size="14.00" text-anchor="middle">j</text>
<text x="24.00" y="766.80" font-size="9.80" text-anchor="middle">2</text>
<text x="73.23" y="766.80" font-size="9.80" text-anchor="middle">3</text>
<text x="122.47" y="766.80" font-size="9.80" text-anchor="middle">4</text>
<text x="171.70" y="766.80" font-size="9.80" text-anchor="middle">5</text>
<text x="97.85" y="784.80" font-size="10.00" text-anchor="middle">Distance [Å]</text>
<text transform="translate(14.10 682.25) rotate(-90) scale(1.040 1)" font-size="10.00" text-anchor="middle">Probability [arb.]</text>
<path d="M234.57 608.90V755.60M259.13 608.90V755.60M283.70 608.90V755.60M308.27 608.90V755.60M332.83 608.90V755.60M210.00 638.24H357.40M210.00 667.58H357.40M210.00 696.92H357.40M210.00 726.26H357.40" stroke="#e8e8e8" stroke-width="0.90" fill="none"/>
<path d="M210.00 623.57h1.10M357.40 623.57h-1.10M210.00 638.24h1.70M357.40 638.24h-1.70M210.00 652.91h1.10M357.40 652.91h-1.10M210.00 667.58h1.70M357.40 667.58h-1.70M210.00 682.25h1.10M357.40 682.25h-1.10M210.00 696.92h1.70M357.40 696.92h-1.70M210.00 711.59h1.10M357.40 711.59h-1.10M210.00 726.26h1.70M357.40 726.26h-1.70M210.00 740.93h1.10M357.40 740.93h-1.10M234.57 755.60v-1.10M234.57 608.90v1.10M259.13 755.60v-1.70M259.13 608.90v1.70M283.70 755.60v-1.10M283.70 608.90v1.10M308.27 755.60v-1.70M308.27 608.90v1.70M332.83 755.60v-1.10M332.83 608.90v1.10" stroke="#2a2a2a" stroke-width="1" fill="none"/>
<path d="M259.5 754.9 259.9 754.7 260.4 754.6 260.8 753.3 261.3 753.4 261.5 752.1 261.7 752.3 262.2 750.8 262.6 750.3 263.1 748.6 263.5 748.6 263.6 747.9 264.0 746.2 264.4 747.1 264.9 746.4 265.3 746.1 265.7 744.8 265.8 745.6 266.2 744.7 266.7 742.0 266.7 742.8 267.1 741.7 267.6 744.2 268.0 743.8 268.2 743.8 268.5 743.6 268.9 740.6 269.2 739.6 269.4 739.1 269.8 737.5 270.3 732.8 270.5 731.4 270.7 728.9 271.2 730.0 271.5 727.2 271.6 725.7 272.1 726.8 272.5 724.7 272.5 725.1 273.0 724.2 273.4 721.9 273.6 721.0 273.9 720.4 274.3 718.6 274.6 718.9 274.8 719.5 275.2 717.8 275.7 712.2 276.1 712.7 276.1 710.6 276.6 710.1 277.0 703.2 277.1 704.4 277.5 701.8 277.9 698.9 278.1 698.2 278.4 698.0 278.8 696.6 279.2 694.0 279.3 695.3 279.7 689.8 280.2 687.0 280.2 685.8 280.6 685.2 281.1 682.5 281.2 683.7 281.5 682.8 282.0 681.0 282.3 679.5 282.4 678.3 282.9 669.6 282.9 669.2 283.3 668.0 283.8 661.2 283.9 660.9 284.2 664.0 284.7 659.7 285.0 658.8 285.1 659.2 285.6 658.4 286.0 663.0 286.0 659.8 286.5 657.1 286.9 656.9 287.0 654.7 287.4 652.4 287.8 651.3 288.1 650.5 288.3 649.8 288.7 652.7 289.1 654.7 289.2 655.0 289.6 649.3 289.9 644.3 290.1 643.2 290.5 632.4 291.0 631.4 291.0 627.7 291.4 628.9 291.9 623.4 292.0 623.6 292.3 631.0 292.8 639.0 293.0 644.3 293.2 639.0 293.7 631.9 293.7 634.8 294.1 621.2 294.3 618.4 294.6 622.0 295.0 626.9 295.1 627.7 295.5 625.6 295.9 626.1 296.2 623.6 296.4 625.5 296.8 624.7 297.2 625.7 297.3 627.7 297.7 622.9 298.2 623.8 298.2 623.6 298.6 626.4 299.1 630.5 299.3 627.7 299.5 628.4 300.0 622.7 300.3 623.6 300.4 625.2 300.9 635.3 301.3 642.3 301.3 642.2 301.8 638.8 302.2 636.8 302.4 636.0 302.7 634.0 303.1 633.2 303.4 632.9 303.6 634.5 304.0 635.3 304.4 640.2 304.5 638.6 304.9 644.5 305.4 650.4 305.5 652.6 305.8 654.7 306.3 664.1 306.5 663.0 306.7 666.3 307.2 666.8 307.6 669.2 307.6 669.7 308.1 670.6 308.5 671.7 308.6 675.4 309.0 674.9 309.4 676.3 309.6 677.5 309.9 678.0 310.3 680.0 310.7 681.6 310.8 678.6 311.2 683.5 311.7 685.7 311.7 685.8 312.1 684.2 312.6 681.7 312.7 683.7 313.0 685.0 313.5 687.9 313.8 687.8 313.9 688.1 314.4 690.1 314.8 694.0 314.8 695.0 315.3 694.9 315.7 697.0 315.8 696.1 316.2 696.9 316.6 698.2 316.9 700.3 317.1 700.9 317.5 704.4 317.9 706.5 318.0 705.5 318.4 706.4 318.9 709.8 319.0 710.6 319.3 713.5 319.8 713.8 320.0 714.8 320.2 716.7 320.7 715.9 321.0 718.9 321.1 721.0 321.6 723.7 322.0 724.0 322.1 725.1 322.5 727.6 322.9 727.3 323.1 727.2 323.4 727.7 323.8 729.6 324.1 731.4 324.3 731.9 324.7 733.0 325.2 733.4 325.2 733.5 325.6 733.5 326.1 735.1 326.2 735.5 326.5 733.9 327.0 732.0 327.2 731.4 327.4 733.6 327.9 735.4 328.3 737.6 328.3 736.7 328.8 738.7 329.2 739.6 329.3 739.6 329.7 740.7 330.1 737.9 330.4 737.6 330.6 738.6 331.0 739.9 331.4 741.7 331.5 743.7 331.9 742.3 332.4 744.7 332.6 743.8 332.8 742.0 333.3 745.0 333.7 746.0 334.1 745.9 334.2 746.5 334.6 747.8 335.1 747.1 335.5 747.9 335.5 747.9 336.0 747.3 336.4 748.0 336.9 749.5 337.2 750.0 337.3 749.0 337.8 749.8 338.2 750.4 338.7 749.2 339.1 750.2 339.3 750.0 339.6 750.2 340.0 751.0 340.5 750.8 340.9 750.9 341.3 751.0 341.4 749.8 341.8 751.5 342.3 751.8 342.7 751.6 343.2 753.0 343.4 752.1 343.6 752.1 344.1 751.9 344.5 752.1 345.0 752.1 345.4 750.4 345.5 751.7 345.9 752.3 346.3 752.0 346.8 752.5 347.2 754.1 347.6 753.1 347.7 753.4 348.1 752.1 348.6 752.8 349.0 752.3 349.5 752.5 349.6 752.1 349.9 752.0 350.4 753.0 350.8 753.9 351.3 752.9 351.7 753.7 351.7 754.3 352.2 753.2 352.6 754.2 353.1 753.9 353.5 752.1 353.8 753.1 354.0 752.5 354.4 752.9 354.9 754.6 355.3 752.9 355.8 753.2 355.8 753.7 356.2 753.3 356.7 754.1 357.1 754.1 357.3 754.2 357.3 754.2" stroke="#000" stroke-width="1.30" fill="none" stroke-linejoin="round"/>
<rect x="210.00" y="608.90" width="147.40" height="146.70" fill="none" stroke="#2a2a2a" stroke-width="1.15"/>
<path d="M219.00 618.50h6.6v1.3h-6.6zM220.00 618.50h1.45v5.50h-1.45zM223.10 618.50h1.45v5.50h-1.45zM226.40 621.00h2.2v1.1h-2.2zM229.70 618.50h6.6v1.3h-6.6zM230.70 618.50h1.45v5.50h-1.45zM233.80 618.50h1.45v5.50h-1.45z" fill="#1a1a1a"/>
<text class="lb" transform="translate(218.80 635.80) scale(1.045 1)" font-size="10.30">C<tspan font-weight="bold">N</tspan></text>
<text class="lb" transform="translate(218.80 647.70) scale(1.045 1)" font-size="10.30"><tspan font-weight="bold">C</tspan>(C<tspan font-size="6.00">3</tspan>)</text>
<text x="345.20" y="626.70" font-size="14.00" text-anchor="middle">k</text>
<text x="210.00" y="766.80" font-size="9.80" text-anchor="middle">2</text>
<text x="259.13" y="766.80" font-size="9.80" text-anchor="middle">3</text>
<text x="308.27" y="766.80" font-size="9.80" text-anchor="middle">4</text>
<text x="357.40" y="766.80" font-size="9.80" text-anchor="middle">5</text>
<text x="283.70" y="784.80" font-size="10.00" text-anchor="middle">Distance [Å]</text>
<text transform="translate(200.10 682.25) rotate(-90) scale(1.040 1)" font-size="10.00" text-anchor="middle">Probability [arb.]</text>
<path d="M420.23 608.90V755.60M444.87 608.90V755.60M469.50 608.90V755.60M494.13 608.90V755.60M518.77 608.90V755.60M395.60 633.35H543.40M395.60 657.80H543.40M395.60 682.25H543.40M395.60 706.70H543.40M395.60 731.15H543.40" stroke="#e8e8e8" stroke-width="0.90" fill="none"/>
<path d="M395.60 621.12h1.10M543.40 621.12h-1.10M395.60 633.35h1.70M543.40 633.35h-1.70M395.60 645.58h1.10M543.40 645.58h-1.10M395.60 657.80h1.70M543.40 657.80h-1.70M395.60 670.02h1.10M543.40 670.02h-1.10M395.60 682.25h1.70M543.40 682.25h-1.70M395.60 694.48h1.10M543.40 694.48h-1.10M395.60 706.70h1.70M543.40 706.70h-1.70M395.60 718.92h1.10M543.40 718.92h-1.10M395.60 731.15h1.70M543.40 731.15h-1.70M395.60 743.38h1.10M543.40 743.38h-1.10M420.23 755.60v-1.10M420.23 608.90v1.10M444.87 755.60v-1.70M444.87 608.90v1.70M469.50 755.60v-1.10M469.50 608.90v1.10M494.13 755.60v-1.70M494.13 608.90v1.70M518.77 755.60v-1.10M518.77 608.90v1.10" stroke="#2a2a2a" stroke-width="1" fill="none"/>
<path d="M427.8 755.6 428.3 755.1 428.7 755.2 429.2 754.5 429.6 754.8 430.1 754.1 430.5 755.1 431.0 755.0 431.4 754.4 431.6 754.4 431.9 753.9 432.3 753.9 432.8 752.3 433.2 751.8 433.5 750.9 433.7 751.0 434.1 748.9 434.6 750.0 435.0 748.1 435.4 749.0 435.5 748.3 435.9 748.4 436.4 747.8 436.8 744.6 437.3 743.6 437.3 743.3 437.7 741.6 438.2 741.0 438.6 739.5 438.6 738.3 439.1 742.5 439.4 744.0 439.5 743.0 440.0 739.1 440.4 736.0 440.5 735.8 440.9 734.3 441.3 731.9 441.8 729.6 442.2 726.7 442.3 725.7 442.7 724.4 443.1 720.1 443.6 717.2 444.0 713.3 444.2 713.0 444.5 712.4 444.9 711.9 445.4 710.1 445.5 710.5 445.8 708.2 446.3 705.2 446.7 702.9 446.8 701.7 447.2 699.6 447.6 692.2 448.1 688.0 448.5 682.6 448.7 681.5 449.0 678.3 449.4 675.5 449.9 672.9 450.3 667.6 450.7 665.0 450.8 666.9 451.2 659.4 451.7 657.5 451.7 658.8 452.1 657.5 452.6 662.2 452.7 660.9 453.0 660.4 453.5 658.1 453.8 654.7 453.9 652.5 454.4 646.3 454.8 640.2 454.8 641.4 455.3 639.0 455.7 634.5 455.8 633.9 456.2 635.5 456.6 638.5 456.9 638.1 457.1 635.8 457.5 632.4 457.9 627.7 458.0 623.2 458.4 625.6 458.9 616.9 458.9 617.4 459.3 622.7 459.8 623.2 460.0 621.5 460.2 619.5 460.7 619.0 461.0 616.3 461.1 614.0 461.6 620.5 462.0 624.4 462.1 623.6 462.5 628.2 462.9 634.7 463.1 636.0 463.4 636.5 463.8 633.5 464.1 631.9 464.3 632.4 464.7 633.8 465.2 633.9 465.2 634.8 465.6 641.2 466.1 644.6 466.2 644.3 466.5 645.2 467.0 647.1 467.2 648.5 467.4 648.3 467.9 653.8 468.3 656.7 468.3 657.8 468.8 654.9 469.2 650.4 469.3 650.5 469.7 653.4 470.1 653.5 470.3 656.7 470.6 656.9 471.0 658.7 471.4 658.8 471.5 656.4 471.9 654.9 472.4 655.3 472.4 652.6 472.8 652.9 473.3 653.2 473.5 654.7 473.7 658.3 474.2 663.6 474.5 669.2 474.6 668.1 475.1 668.4 475.5 671.2 475.5 668.8 476.0 677.9 476.4 679.3 476.6 679.5 476.9 682.8 477.3 683.8 477.6 685.8 477.8 685.8 478.2 688.0 478.6 689.9 478.7 689.0 479.1 692.4 479.6 694.9 479.7 694.0 480.0 695.2 480.5 696.9 480.7 698.2 480.9 699.0 481.4 698.8 481.7 702.3 481.8 704.0 482.3 705.3 482.7 709.5 482.8 708.6 483.2 705.7 483.6 700.7 483.8 700.3 484.1 701.5 484.5 703.3 484.8 702.3 485.0 699.9 485.4 697.4 485.9 696.0 485.9 698.2 486.3 705.6 486.8 709.6 486.9 710.6 487.2 711.7 487.7 711.5 488.0 712.7 488.1 714.9 488.6 714.1 489.0 714.8 489.0 714.2 489.5 714.4 489.9 716.6 490.0 716.8 490.4 716.3 490.8 715.9 491.1 715.8 491.3 716.7 491.7 719.1 492.1 721.0 492.2 719.8 492.6 721.4 493.1 722.9 493.1 723.1 493.5 724.1 494.0 727.0 494.2 727.2 494.4 730.0 494.9 728.1 495.2 731.4 495.3 732.6 495.8 734.0 496.2 734.1 496.2 733.4 496.7 736.0 497.1 735.2 497.3 735.5 497.6 736.3 498.0 737.6 498.3 737.6 498.5 735.6 498.9 738.3 499.4 739.6 499.4 738.9 499.8 739.8 500.3 740.5 500.4 738.6 500.7 738.9 501.2 741.2 501.4 741.7 501.6 742.0 502.1 744.4 502.5 743.8 502.5 744.5 503.0 743.8 503.4 741.9 503.5 742.8 503.9 743.2 504.3 744.4 504.5 744.8 504.8 744.8 505.2 746.4 505.6 745.9 505.7 745.5 506.1 746.5 506.6 745.6 506.6 746.9 507.0 747.7 507.5 749.3 507.6 747.9 507.9 747.2 508.4 748.9 508.8 747.4 509.3 749.1 509.7 749.0 509.7 748.9 510.2 749.8 510.6 749.4 511.1 750.1 511.5 749.2 511.8 750.0 512.0 750.5 512.4 750.0 512.9 751.2 513.3 750.3 513.8 750.9 513.9 751.0 514.2 751.2 514.7 751.0 515.1 750.3 515.6 752.0 516.0 751.6 516.5 751.5 516.9 750.3 517.0 751.0 517.4 751.2 517.8 750.7 518.3 750.4 518.7 751.7 519.0 752.1 519.2 752.1 519.6 750.6 520.1 751.1 520.5 752.5 521.0 752.3 521.1 752.5 521.4 751.5 521.9 752.7 522.3 752.8 522.8 752.0 523.2 753.1 523.2 753.0 523.7 753.4 524.1 754.4 524.6 754.1 525.0 754.2 525.3 753.5 525.5 753.4 525.9 753.5 526.4 753.8 526.8 753.2 527.3 753.5 527.3 753.7 527.7 754.4 528.2 754.1 528.6 753.9 529.1 754.2 529.5 754.9 530.0 754.4 530.4 753.2 530.4 754.6 530.9 755.2 531.3 754.8 531.8 754.3 532.2 755.3 532.7 754.2 533.1 754.8 533.6 754.2 533.6 754.3 534.0 754.0 534.5 754.7 534.9 754.0 535.4 754.4 535.6 754.6 535.8 754.6 536.3 753.9 536.7 754.7 537.2 755.0 537.6 754.4 538.1 754.2 538.5 753.9 538.7 753.7 539.0 752.8 539.4 752.9 539.9 754.4 540.3 754.3 540.8 754.5 540.8 754.6 541.2 753.8 541.7 753.3 542.1 755.2 542.6 755.5 543.0 753.5 543.3 754.6 543.3 754.6" stroke="#000" stroke-width="1.30" fill="none" stroke-linejoin="round"/>
<rect x="395.60" y="608.90" width="147.80" height="146.70" fill="none" stroke="#2a2a2a" stroke-width="1.15"/>
<path d="M404.60 618.50h6.6v1.3h-6.6zM405.60 618.50h1.45v5.50h-1.45zM408.70 618.50h1.45v5.50h-1.45zM412.00 621.00h2.2v1.1h-2.2zM415.30 618.50h6.6v1.3h-6.6zM416.30 618.50h1.45v5.50h-1.45zM419.40 618.50h1.45v5.50h-1.45z" fill="#1a1a1a"/>
<text class="lb" transform="translate(404.40 635.80) scale(1.045 1)" font-size="10.30">C<tspan font-weight="bold">N</tspan></text>
<text class="lb" transform="translate(404.40 647.70) scale(1.045 1)" font-size="10.30"><tspan font-weight="bold">C</tspan>(C<tspan font-size="6.00">3</tspan>)</text>
<text x="531.20" y="626.70" font-size="14.00" text-anchor="middle">l</text>
<text x="395.60" y="766.80" font-size="9.80" text-anchor="middle">2</text>
<text x="444.87" y="766.80" font-size="9.80" text-anchor="middle">3</text>
<text x="494.13" y="766.80" font-size="9.80" text-anchor="middle">4</text>
<text x="543.40" y="766.80" font-size="9.80" text-anchor="middle">5</text>
<text x="469.50" y="784.80" font-size="10.00" text-anchor="middle">Distance [Å]</text>
<text transform="translate(385.70 682.25) rotate(-90) scale(1.040 1)" font-size="10.00" text-anchor="middle">Probability [arb.]</text>
</g>
</svg>
</body></html>
